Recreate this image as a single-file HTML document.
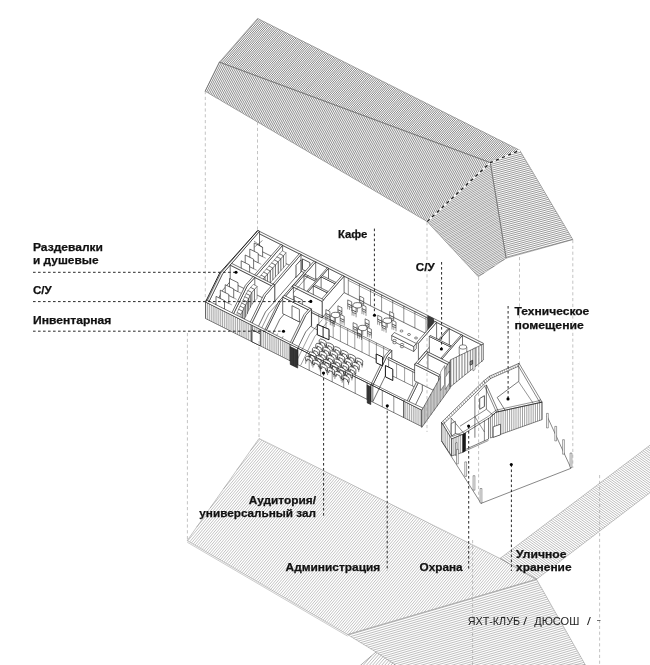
<!DOCTYPE html>
<html><head><meta charset="utf-8"><title>axon</title>
<style>html,body{margin:0;padding:0;background:#fff}svg{display:block;will-change:transform}text{font-family:"Liberation Sans",sans-serif}</style>
</head><body>
<svg width="650" height="665" viewBox="0 0 650 665">
<rect width="650" height="665" fill="#fff"/>
<path d="M535.8 578.9L535.1 579.7M534 577.8L531.5 580.8M532.1 576.8L527.9 581.8M530.3 575.8L524.3 582.9M528.5 574.7L520.7 583.9M526.7 573.7L517.2 585M524.9 572.7L513.6 586M523 571.6L510 587.1M521.2 570.6L506.4 588.1M519.4 569.6L502.8 589.2M517.6 568.5L499.3 590.2M515.8 567.5L495.7 591.3M513.9 566.4L492.1 592.3M512.1 565.4L488.5 593.4M510.3 564.4L484.9 594.4M508.5 563.3L481.4 595.5M506.6 562.3L477.8 596.5M504.8 561.3L474.2 597.5M503 560.2L470.6 598.6M501.2 559.2L467 599.6M499.3 558.2L463.5 600.7M497.4 557.2L459.9 601.7M495.5 556.3L456.3 602.8M493.6 555.3L452.7 603.8M491.8 554.4L449.1 604.9M489.9 553.4L445.6 605.9M488 552.5L442 607M486.1 551.6L438.4 608M484.2 550.6L434.8 609.1M482.3 549.7L431.2 610.1M480.4 548.7L427.7 611.2M478.5 547.8L424.1 612.2M476.6 546.8L420.5 613.3M474.7 545.9L416.9 614.3M472.8 544.9L413.3 615.4M470.9 544L409.8 616.4M469 543.1L406.2 617.5M467.1 542.1L402.6 618.5M465.2 541.2L399 619.6M463.3 540.2L395.4 620.6M461.4 539.3L391.8 621.7M459.5 538.3L388.3 622.7M457.6 537.4L384.7 623.8M455.7 536.4L381.1 624.8M453.8 535.5L377.5 625.9M451.9 534.5L373.9 626.9M450 533.6L370.4 628M448.1 532.7L366.8 629M446.2 531.7L363.2 630.1M444.3 530.8L359.6 631.1M442.4 529.8L356 632.2M440.5 528.9L352.5 633.2M438.6 527.9L348.9 634.3M436.7 527L346.5 633.9M434.8 526L344.7 632.8M432.9 525.1L342.9 631.8M431 524.2L341.1 630.7M429.1 523.2L339.3 629.7M427.2 522.3L337.5 628.6M425.3 521.3L335.7 627.6M423.4 520.4L333.9 626.5M421.5 519.4L332.1 625.4M419.6 518.5L330.3 624.4M417.7 517.5L328.5 623.3M415.8 516.6L326.6 622.3M413.9 515.6L324.8 621.2M412 514.7L323 620.2M410.1 513.8L321.2 619.1M408.2 512.8L319.4 618M406.3 511.9L317.6 617M404.4 510.9L315.8 615.9M402.5 510L314 614.9M400.6 509L312.2 613.8M398.7 508.1L310.4 612.8M396.9 507.1L308.6 611.7M395 506.2L306.8 610.6M393.1 505.2L305 609.6M391.2 504.3L303.2 608.5M389.3 503.4L301.4 607.5M387.4 502.4L299.6 606.4M385.5 501.5L297.8 605.4M383.6 500.5L296 604.3M381.7 499.6L294.2 603.3M379.8 498.6L292.4 602.2M377.9 497.7L290.6 601.1M376 496.7L288.8 600.1M374.1 495.8L287 599M372.2 494.9L285.2 598M370.3 493.9L283.4 596.9M368.4 493L281.6 595.9M366.5 492L279.7 594.8M364.6 491.1L277.9 593.7M362.7 490.1L276.1 592.7M360.8 489.2L274.3 591.6M358.9 488.2L272.5 590.6M357 487.3L270.7 589.5M355.1 486.3L268.9 588.5M353.2 485.4L267.1 587.4M351.3 484.5L265.3 586.4M349.4 483.5L263.5 585.3M347.5 482.6L261.7 584.2M345.6 481.6L259.9 583.2M343.7 480.7L258.1 582.1M341.8 479.7L256.3 581.1M339.9 478.8L254.5 580M338 477.8L252.7 579M336.1 476.9L250.9 577.9M334.2 476L249.1 576.8M332.3 475L247.3 575.8M330.4 474.1L245.5 574.7M328.5 473.1L243.7 573.7M326.6 472.2L241.9 572.6M324.7 471.2L240.1 571.6M322.8 470.3L238.3 570.5M320.9 469.3L236.5 569.4M319 468.4L234.6 568.4M317.1 467.4L232.8 567.3M315.2 466.5L231 566.3M313.3 465.6L229.2 565.2M311.4 464.6L227.4 564.2M309.5 463.7L225.6 563.1M307.6 462.7L223.8 562.1M305.7 461.8L222 561M303.9 460.8L220.2 559.9M302 459.9L218.4 558.9M300.1 458.9L216.6 557.8M298.2 458L214.8 556.8M296.3 457.1L213 555.7M294.4 456.1L211.2 554.7M292.5 455.2L209.4 553.6M290.6 454.2L207.6 552.5M288.7 453.3L205.8 551.5M286.8 452.3L204 550.4M284.9 451.4L202.2 549.4M283 450.4L200.4 548.3M281.1 449.5L198.6 547.3M279.2 448.5L196.8 546.2M277.3 447.6L195 545.1M275.4 446.7L193.2 544.1M273.5 445.7L191.4 543M271.6 444.8L189.6 542M269.7 443.8L187.7 540.9M267.8 442.9L196.6 527.2M265.9 441.9L210.1 508.1M264 441L223.5 488.9M262.1 440L237 469.8M260.2 439.1L250.5 450.6" stroke="#5c5c5c" stroke-width="0.37" fill="none"/>
<polygon points="259,438.5 500,558.5 536.5,579.3 347.7,634.6 187.2,540.6" stroke="#8a8a8a" stroke-width="0.5" fill="none" />
<polyline points="187.2,542.2 347.7,636.2" stroke="#999" stroke-width="0.5" fill="none" />
<polygon points="347.7,634.6 536.5,579.3 585.4,665 400,668 376,652" stroke="none" stroke-width="0.6" fill="#fff" />
<path d="M348.4 635L536.8 579.8M350.9 636.5L537.9 581.8M353.3 638.1L539 583.7M355.8 639.6L540.1 585.6M358.3 641.1L541.2 587.5M360.7 642.6L542.3 589.4M363.2 644.1L543.4 591.4M365.7 645.6L544.5 593.3M368.1 647.2L545.6 595.2M370.6 648.7L546.7 597.1M373.1 650.2L547.8 599M375.5 651.7L548.9 601M377.9 653.3L549.9 602.9M380.2 654.8L551 604.8M382.6 656.4L552.1 606.7M384.9 657.9L553.2 608.6M387.2 659.5L554.3 610.5M389.6 661L555.4 612.5M391.9 662.6L556.5 614.4M394.2 664.2L557.6 616.3M396.6 665.7L558.7 618.2M398.9 667.3L559.8 620.1M404.3 667.9L560.9 622.1M412.4 667.8L562 624M420.5 667.7L563.1 625.9M428.6 667.5L564.2 627.8M436.7 667.4L565.3 629.7M444.8 667.3L566.4 631.7M452.9 667.1L567.5 633.6M461 667L568.6 635.5M469.1 666.9L569.7 637.4M477.2 666.8L570.8 639.3M485.3 666.6L571.9 641.3M493.4 666.5L572.9 643.2M501.5 666.4L574 645.1M509.6 666.2L575.1 647M517.7 666.1L576.2 648.9M525.8 666L577.3 650.9M533.9 665.8L578.4 652.8M541.9 665.7L579.5 654.7M550 665.6L580.6 656.6M558.1 665.4L581.7 658.5M566.2 665.3L582.8 660.5M574.3 665.2L583.9 662.4M582.4 665L585 664.3" stroke="#5c5c5c" stroke-width="0.4" fill="none"/>
<polygon points="347.7,634.6 536.5,579.3 585.4,665 400,668 376,652" stroke="#8a8a8a" stroke-width="0.5" fill="none" />
<path d="M356.2 670L359.6 666.1M359.2 670L371.5 655.8M362.3 670L377.2 652.8M365.3 670L379.2 654M368.4 670L381.1 655.3M371.4 670L383.1 656.6M374.4 670L385 657.8M377.5 670L387 659.1M380.5 670L389 660.3M383.6 670L390.9 661.6M386.6 670L392.9 662.8M389.7 670L394.8 664.1M392.7 670L396.8 665.4M395.8 670L398.7 666.6M398.8 670L400.7 667.9M401.9 670L402.6 669.1" stroke="#5c5c5c" stroke-width="0.4" fill="none"/>
<polyline points="355,670 376,652" stroke="#777" stroke-width="0.6" fill="none" />
<path d="M659.6 438L660 438.2M658 439.2L660 440.7M656.3 440.5L660 443.2M654.6 441.8L660 445.6M653 443L660 448.1M651.3 444.3L660 450.6M649.6 445.5L660 453M647.9 446.8L660 455.5M646.3 448.1L660 457.9M644.6 449.3L660 460.4M642.9 450.6L660 462.9M641.3 451.8L660 465.3M639.6 453.1L660 467.8M637.9 454.4L660 470.3M636.2 455.6L660 472.7M634.6 456.9L660 475.2M632.9 458.2L660 477.7M631.2 459.4L660 480.1M629.6 460.7L660 482.6M627.9 461.9L660 485M626.2 463.2L658.3 486.3M624.6 464.5L656.6 487.6M622.9 465.7L655 488.8M621.2 467L653.3 490.1M619.5 468.2L651.7 491.4M617.9 469.5L650 492.6M616.2 470.8L648.3 493.9M614.5 472L646.7 495.2M612.9 473.3L645 496.4M611.2 474.6L643.3 497.7M609.5 475.8L641.7 499M607.8 477.1L640 500.3M606.2 478.3L638.4 501.5M604.5 479.6L636.7 502.8M602.8 480.9L635 504.1M601.2 482.1L633.4 505.3M599.5 483.4L631.7 506.6M597.8 484.6L630.1 507.9M596.1 485.9L628.4 509.1M594.5 487.2L626.7 510.4M592.8 488.4L625.1 511.7M591.1 489.7L623.4 512.9M589.5 491L621.8 514.2M587.8 492.2L620.1 515.5M586.1 493.5L618.4 516.7M584.5 494.7L616.8 518M582.8 496L615.1 519.3M581.1 497.3L613.4 520.5M579.4 498.5L611.8 521.8M577.8 499.8L610.1 523.1M576.1 501L608.5 524.4M574.4 502.3L606.8 525.6M572.8 503.6L605.1 526.9M571.1 504.8L603.5 528.2M569.4 506.1L601.8 529.4M567.7 507.4L600.2 530.7M566.1 508.6L598.5 532M564.4 509.9L596.8 533.2M562.7 511.1L595.2 534.5M561.1 512.4L593.5 535.8M559.4 513.7L591.9 537M557.7 514.9L590.2 538.3M556 516.2L588.5 539.6M554.4 517.4L586.9 540.8M552.7 518.7L585.2 542.1M551 520L583.5 543.4M549.4 521.2L581.9 544.6M547.7 522.5L580.2 545.9M546 523.8L578.6 547.2M544.4 525L576.9 548.5M542.7 526.3L575.2 549.7M541 527.5L573.6 551M539.3 528.8L571.9 552.3M537.7 530.1L570.3 553.5M536 531.3L568.6 554.8M534.3 532.6L566.9 556.1M532.7 533.8L565.3 557.3M531 535.1L563.6 558.6M529.3 536.4L562 559.9M527.6 537.6L560.3 561.1M526 538.9L558.6 562.4M524.3 540.2L557 563.7M522.6 541.4L555.3 564.9M521 542.7L553.6 566.2M519.3 543.9L552 567.5M517.6 545.2L550.3 568.7M515.9 546.5L548.7 570M514.3 547.7L547 571.3M512.6 549L545.3 572.6M510.9 550.2L543.7 573.8M509.3 551.5L542 575.1M507.6 552.8L540.4 576.4M505.9 554L538.7 577.6M504.3 555.3L537 578.9M502.6 556.6L525.4 573M500.9 557.8L508.9 563.6" stroke="#5c5c5c" stroke-width="0.4" fill="none"/>
<polygon points="500,558.5 660,437.7 660,485 536.5,579.3" stroke="#8a8a8a" stroke-width="0.5" fill="none" />
<path d="M519.1 149.9L518.2 151M517.6 149.2L514.9 152.3M516.2 148.5L511.6 153.7M514.7 147.7L508.3 155.1M513.3 147L505 156.5M511.8 146.3L501.7 157.8M510.3 145.5L498.4 159.2M508.9 144.8L495.1 160.6M507.4 144.1L491.8 162M506 143.3L489.5 162.3M504.5 142.6L487.9 161.7M503.1 141.9L486.3 161.1M501.6 141.1L484.7 160.5M500.1 140.4L483.1 159.9M498.7 139.7L481.5 159.4M497.2 139L480 158.8M495.8 138.2L478.4 158.2M494.3 137.5L476.8 157.6M492.9 136.8L475.2 157M491.4 136L473.6 156.4M489.9 135.3L472 155.8M488.5 134.6L470.5 155.2M487 133.8L468.9 154.6M485.6 133.1L467.3 154.1M484.1 132.4L465.7 153.5M482.7 131.6L464.1 152.9M481.2 130.9L462.5 152.3M479.7 130.2L460.9 151.7M478.3 129.4L459.4 151.1M476.8 128.7L457.8 150.5M475.4 128L456.2 149.9M473.9 127.2L454.6 149.4M472.5 126.5L453 148.8M471 125.8L451.4 148.2M469.5 125L449.9 147.6M468.1 124.3L448.3 147M466.6 123.6L446.7 146.4M465.2 122.8L445.1 145.8M463.7 122.1L443.5 145.2M462.3 121.4L441.9 144.7M460.8 120.6L440.4 144.1M459.3 119.9L438.8 143.5M457.9 119.2L437.2 142.9M456.4 118.4L435.6 142.3M455 117.7L434 141.7M453.5 117L432.4 141.1M452.1 116.2L430.9 140.5M450.6 115.5L429.3 140M449.1 114.8L427.7 139.4M447.7 114L426.1 138.8M446.2 113.3L424.5 138.2M444.8 112.6L422.9 137.6M443.3 111.8L421.4 137M441.9 111.1L419.8 136.4M440.4 110.4L418.2 135.8M438.9 109.6L416.6 135.3M437.5 108.9L415 134.7M436 108.2L413.4 134.1M434.6 107.4L411.8 133.5M433.1 106.7L410.3 132.9M431.7 106L408.7 132.3M430.2 105.2L407.1 131.7M428.7 104.5L405.5 131.1M427.3 103.8L403.9 130.6M425.8 103L402.3 130M424.4 102.3L400.8 129.4M422.9 101.6L399.2 128.8M421.5 100.8L397.6 128.2M420 100.1L396 127.6M418.5 99.4L394.4 127M417.1 98.6L392.8 126.4M415.6 97.9L391.3 125.9M414.2 97.2L389.7 125.3M412.7 96.4L388.1 124.7M411.3 95.7L386.5 124.1M409.8 95L384.9 123.5M408.3 94.2L383.3 122.9M406.9 93.5L381.8 122.3M405.4 92.8L380.2 121.7M404 92.1L378.6 121.2M402.5 91.3L377 120.6M401 90.6L375.4 120M399.6 89.9L373.8 119.4M398.1 89.1L372.3 118.8M396.7 88.4L370.7 118.2M395.2 87.7L369.1 117.6M393.8 86.9L367.5 117M392.3 86.2L365.9 116.5M390.8 85.5L364.3 115.9M389.4 84.7L362.7 115.3M387.9 84L361.2 114.7M386.5 83.3L359.6 114.1M385 82.5L358 113.5M383.6 81.8L356.4 112.9M382.1 81.1L354.8 112.3M380.6 80.3L353.2 111.8M379.2 79.6L351.7 111.2M377.7 78.9L350.1 110.6M376.3 78.1L348.5 110M374.8 77.4L346.9 109.4M373.4 76.7L345.3 108.8M371.9 75.9L343.7 108.2M370.4 75.2L342.2 107.6M369 74.5L340.6 107.1M367.5 73.7L339 106.5M366.1 73L337.4 105.9M364.6 72.3L335.8 105.3M363.2 71.5L334.2 104.7M361.7 70.8L332.7 104.1M360.2 70.1L331.1 103.5M358.8 69.3L329.5 102.9M357.3 68.6L327.9 102.4M355.9 67.9L326.3 101.8M354.4 67.1L324.7 101.2M353 66.4L323.2 100.6M351.5 65.7L321.6 100M350 64.9L320 99.4M348.6 64.2L318.4 98.8M347.1 63.5L316.8 98.2M345.7 62.7L315.2 97.7M344.2 62L313.6 97.1M342.8 61.3L312.1 96.5M341.3 60.5L310.5 95.9M339.8 59.8L308.9 95.3M338.4 59.1L307.3 94.7M336.9 58.3L305.7 94.1M335.5 57.6L304.1 93.5M334 56.9L302.6 93M332.6 56.1L301 92.4M331.1 55.4L299.4 91.8M329.6 54.7L297.8 91.2M328.2 53.9L296.2 90.6M326.7 53.2L294.6 90M325.3 52.5L293.1 89.4M323.8 51.7L291.5 88.8M322.4 51L289.9 88.3M320.9 50.3L288.3 87.7M319.4 49.5L286.7 87.1M318 48.8L285.1 86.5M316.5 48.1L283.6 85.9M315.1 47.3L282 85.3M313.6 46.6L280.4 84.7M312.2 45.9L278.8 84.1M310.7 45.2L277.2 83.6M309.2 44.4L275.6 83M307.8 43.7L274.1 82.4M306.3 43L272.5 81.8M304.9 42.2L270.9 81.2M303.4 41.5L269.3 80.6M302 40.8L267.7 80M300.5 40L266.1 79.4M299 39.3L264.5 78.8M297.6 38.6L263 78.3M296.1 37.8L261.4 77.7M294.7 37.1L259.8 77.1M293.2 36.4L258.2 76.5M291.8 35.6L256.6 75.9M290.3 34.9L255 75.3M288.8 34.2L253.5 74.7M287.4 33.4L251.9 74.1M285.9 32.7L250.3 73.6M284.5 32L248.7 73M283 31.2L247.1 72.4M281.6 30.5L245.5 71.8M280.1 29.8L244 71.2M278.6 29L242.4 70.6M277.2 28.3L240.8 70M275.7 27.6L239.2 69.4M274.3 26.8L237.6 68.9M272.8 26.1L236 68.3M271.4 25.4L234.5 67.7M269.9 24.6L232.9 67.1M268.4 23.9L231.3 66.5M267 23.2L229.7 65.9M265.5 22.4L228.1 65.3M264.1 21.7L226.5 64.7M262.6 21L225 64.2M261.2 20.2L223.4 63.6M259.7 19.5L221.8 63M258.2 18.8L220.2 62.4" stroke="#1a1a1a" stroke-width="0.54" fill="none"/>
<path d="M488.6 162L486.7 166M487 161.4L483.2 169.3M485.4 160.8L479.7 172.5M483.8 160.2L476.2 175.8M482.2 159.6L472.7 179.1M480.6 159L469.2 182.4M479 158.4L465.7 185.6M477.4 157.8L462.2 188.9M475.8 157.2L458.7 192.2M474.2 156.6L455.2 195.5M472.6 156L451.6 198.7M471 155.4L448.1 202M469.4 154.9L444.6 205.3M467.8 154.3L441.1 208.6M466.2 153.7L437.6 211.8M464.6 153.1L434.1 215.1M463 152.5L430.6 218.4M461.4 151.9L427.2 221.6M459.8 151.3L425.7 220.7M458.2 150.7L424.2 219.9M456.6 150.1L422.8 219M455 149.5L421.3 218.1M453.4 148.9L419.8 217.3M451.8 148.3L418.3 216.4M450.2 147.7L416.9 215.5M448.6 147.1L415.4 214.7M447 146.5L413.9 213.8M445.4 145.9L412.5 212.9M443.8 145.3L411 212.1M442.2 144.8L409.5 211.2M440.6 144.2L408.1 210.4M439 143.6L406.6 209.5M437.4 143L405.1 208.6M435.8 142.4L403.6 207.8M434.2 141.8L402.2 206.9M432.6 141.2L400.7 206M431 140.6L399.2 205.2M429.4 140L397.8 204.3M427.8 139.4L396.3 203.5M426.2 138.8L394.8 202.6M424.6 138.2L393.4 201.7M423 137.6L391.9 200.9M421.4 137L390.4 200M419.8 136.4L388.9 199.1M418.2 135.8L387.5 198.3M416.6 135.2L386 197.4M415 134.6L384.5 196.5M413.4 134.1L383.1 195.7M411.7 133.5L381.6 194.8M410.1 132.9L380.1 194M408.5 132.3L378.7 193.1M406.9 131.7L377.2 192.2M405.3 131.1L375.7 191.4M403.7 130.5L374.2 190.5M402.1 129.9L372.8 189.6M400.5 129.3L371.3 188.8M398.9 128.7L369.8 187.9M397.3 128.1L368.4 187.1M395.7 127.5L366.9 186.2M394.1 126.9L365.4 185.3M392.5 126.3L364 184.5M390.9 125.7L362.5 183.6M389.3 125.1L361 182.7M387.7 124.5L359.5 181.9M386.1 123.9L358.1 181M384.5 123.4L356.6 180.2M382.9 122.8L355.1 179.3M381.3 122.2L353.7 178.4M379.7 121.6L352.2 177.6M378.1 121L350.7 176.7M376.5 120.4L349.3 175.8M374.9 119.8L347.8 175M373.3 119.2L346.3 174.1M371.7 118.6L344.8 173.2M370.1 118L343.4 172.4M368.5 117.4L341.9 171.5M366.9 116.8L340.4 170.7M365.3 116.2L339 169.8M363.7 115.6L337.5 168.9M362.1 115L336 168.1M360.5 114.4L334.6 167.2M358.9 113.8L333.1 166.3M357.3 113.3L331.6 165.5M355.7 112.7L330.1 164.6M354.1 112.1L328.7 163.8M352.5 111.5L327.2 162.9M350.9 110.9L325.7 162M349.3 110.3L324.3 161.2M347.7 109.7L322.8 160.3M346.1 109.1L321.3 159.4M344.5 108.5L319.9 158.6M342.9 107.9L318.4 157.7M341.3 107.3L316.9 156.8M339.7 106.7L315.4 156M338.1 106.1L314 155.1M336.4 105.5L312.5 154.3M334.8 104.9L311 153.4M333.2 104.3L309.6 152.5M331.6 103.7L308.1 151.7M330 103.1L306.6 150.8M328.4 102.6L305.2 149.9M326.8 102L303.7 149.1M325.2 101.4L302.2 148.2M323.6 100.8L300.7 147.4M322 100.2L299.3 146.5M320.4 99.6L297.8 145.6M318.8 99L296.3 144.8M317.2 98.4L294.9 143.9M315.6 97.8L293.4 143M314 97.2L291.9 142.2M312.4 96.6L290.5 141.3M310.8 96L289 140.4M309.2 95.4L287.5 139.6M307.6 94.8L286 138.7M306 94.2L284.6 137.9M304.4 93.6L283.1 137M302.8 93L281.6 136.1M301.2 92.4L280.2 135.3M299.6 91.9L278.7 134.4M298 91.3L277.2 133.5M296.4 90.7L275.8 132.7M294.8 90.1L274.3 131.8M293.2 89.5L272.8 131M291.6 88.9L271.3 130.1M290 88.3L269.9 129.2M288.4 87.7L268.4 128.4M286.8 87.1L266.9 127.5M285.2 86.5L265.5 126.6M283.6 85.9L264 125.8M282 85.3L262.5 124.9M280.4 84.7L261.1 124M278.8 84.1L259.6 123.2M277.2 83.5L258.1 122.3M275.6 82.9L256.6 121.5M274 82.3L255.2 120.6M272.4 81.7L253.7 119.7M270.8 81.2L252.2 118.9M269.2 80.6L250.8 118M267.6 80L249.3 117.1M266 79.4L247.8 116.3M264.4 78.8L246.3 115.4M262.8 78.2L244.9 114.6M261.2 77.6L243.4 113.7M259.5 77L241.9 112.8M257.9 76.4L240.5 112M256.3 75.8L239 111.1M254.7 75.2L237.5 110.2M253.1 74.6L236.1 109.4M251.5 74L234.6 108.5M249.9 73.4L233.1 107.7M248.3 72.8L231.6 106.8M246.7 72.2L230.2 105.9M245.1 71.6L228.7 105.1M243.5 71.1L227.2 104.2M241.9 70.5L225.8 103.3M240.3 69.9L224.3 102.5M238.7 69.3L222.8 101.6M237.1 68.7L221.4 100.7M235.5 68.1L219.9 99.9M233.9 67.5L218.4 99M232.3 66.9L216.9 98.2M230.7 66.3L215.5 97.3M229.1 65.7L214 96.4M227.5 65.1L212.5 95.6M225.9 64.5L211.1 94.7M224.3 63.9L209.6 93.8M222.7 63.3L208.1 93M221.1 62.7L206.7 92.1M219.5 62.1L205.2 91.3" stroke="#1a1a1a" stroke-width="0.49" fill="none"/>
<path d="M486.1 166.5L490.6 164.3M482.2 170.1L490.8 165.8M478.3 173.8L491.1 167.4M474.4 177.4L491.4 169M470.5 181.1L491.6 170.5M466.6 184.7L491.9 172.1M462.7 188.4L492.1 173.7M458.8 192.1L492.4 175.3M454.9 195.7L492.7 176.8M451 199.4L492.9 178.4M447.1 203L493.2 180M443.2 206.7L493.4 181.5M439.3 210.3L493.7 183.1M435.4 214L493.9 184.7M431.5 217.6L494.2 186.2M427.5 221.3L494.5 187.8M428.2 222.7L494.7 189.4M429.3 223.8L495 191M430.3 225L495.2 192.5M431.4 226.1L495.5 194.1M432.5 227.3L495.8 195.7M433.6 228.5L496 197.2M434.7 229.6L496.3 198.8M435.7 230.8L496.5 200.4M436.8 231.9L496.8 201.9M437.9 233.1L497.1 203.5M439 234.3L497.3 205.1M440 235.4L497.6 206.7M441.1 236.6L497.8 208.2M442.2 237.7L498.1 209.8M443.3 238.9L498.4 211.4M444.4 240.1L498.6 212.9M445.4 241.2L498.9 214.5M446.5 242.4L499.1 216.1M447.6 243.5L499.4 217.6M448.7 244.7L499.7 219.2M449.7 245.9L499.9 220.8M450.8 247L500.2 222.3M451.9 248.2L500.4 223.9M453 249.3L500.7 225.5M454.1 250.5L501 227.1M455.1 251.7L501.2 228.6M456.2 252.8L501.5 230.2M457.3 254L501.7 231.8M458.4 255.1L502 233.3M459.5 256.3L502.3 234.9M460.5 257.5L502.5 236.5M461.6 258.6L502.8 238M462.7 259.8L503 239.6M463.8 260.9L503.3 241.2M464.8 262.1L503.5 242.8M465.9 263.3L503.8 244.3M467 264.4L504.1 245.9M468.1 265.6L504.3 247.5M469.2 266.7L504.6 249M470.2 267.9L504.8 250.6M471.3 269.1L505.1 252.2M472.4 270.2L505.4 253.7M473.5 271.4L505.6 255.3M474.5 272.6L505.9 256.9M475.6 273.7L504.5 259.3M476.7 274.9L494.4 266M477.8 276L484.2 272.8" stroke="#1a1a1a" stroke-width="0.42" fill="none"/>
<path d="M518.4 150.9L519.9 150.5M504.6 156.6L520.9 152.2M490.9 162.4L522 154M490.6 164.5L523 155.7M490.9 166.4L524 157.4M491.2 168.3L525.1 159.2M491.6 170.3L526.1 160.9M491.9 172.2L527.1 162.7M492.2 174.1L528.2 164.4M492.5 176.1L529.2 166.1M492.8 178L530.2 167.9M493.2 179.9L531.3 169.6M493.5 181.9L532.3 171.4M493.8 183.8L533.3 173.1M494.1 185.7L534.4 174.9M494.4 187.7L535.4 176.6M494.8 189.6L536.4 178.3M495.1 191.5L537.5 180.1M495.4 193.5L538.5 181.8M495.7 195.4L539.5 183.6M496 197.3L540.6 185.3M496.4 199.3L541.6 187M496.7 201.2L542.6 188.8M497 203.1L543.7 190.5M497.3 205.1L544.7 192.3M497.6 207L545.7 194M498 208.9L546.8 195.7M498.3 210.9L547.8 197.5M498.6 212.8L548.8 199.2M498.9 214.7L549.9 201M499.2 216.7L550.9 202.7M499.6 218.6L551.9 204.4M499.9 220.5L553 206.2M500.2 222.5L554 207.9M500.5 224.4L555 209.7M500.8 226.3L556.1 211.4M501.2 228.3L557.1 213.2M501.5 230.2L558.1 214.9M501.8 232.1L559.2 216.6M502.1 234.1L560.2 218.4M502.4 236L561.2 220.1M502.7 237.9L562.3 221.9M503.1 239.9L563.3 223.6M503.4 241.8L564.3 225.3M503.7 243.7L565.4 227.1M504 245.7L566.4 228.8M504.3 247.6L567.4 230.6M504.7 249.5L568.5 232.3M505 251.5L569.5 234M505.3 253.4L570.5 235.8M505.6 255.3L571.6 237.5M505.9 257.3L572.6 239.3" stroke="#333" stroke-width="0.5" fill="none"/>
<polygon points="257.5,18.4 519.8,150.3 490.3,162.6 219.4,62.1" stroke="#555" stroke-width="0.45" fill="none" />
<polygon points="219.4,62.1 490.3,162.6 427.2,221.6 205.1,91.2" stroke="#555" stroke-width="0.45" fill="none" />
<polygon points="490.3,162.6 427.2,221.6 478.4,276.7 506.1,258.2" stroke="#555" stroke-width="0.45" fill="none" />
<polygon points="490.3,162.6 519.8,150.3 572.8,239.6 506.1,258.2" stroke="#555" stroke-width="0.45" fill="none" />
<polyline points="427.2,221.6 490.3,162.6 519.8,150.3" stroke="#fff" stroke-width="1.5" fill="none" />
<polyline points="427.2,221.6 490.3,162.6 519.8,150.3" stroke="#1a1a1a" stroke-width="1.3" fill="none" stroke-dasharray="3.3 3.3"/>
<polygon points="257.8,230.5 220.8,273 205.6,301.5 205.6,318 421.5,426.9 450.2,387 483.4,360 483.4,343.3" stroke="none" stroke-width="0.6" fill="#fff" />
<polygon points="256.3,232.2 481.9,345 481.9,361.5 256.3,248.7" stroke="#111" stroke-width="0.6" fill="#fff" />
<polygon points="257.8,230.5 483.4,343.3 481.9,345 256.3,232.2" stroke="#111" stroke-width="0.6" fill="#fff" />
<line x1="348.3" y1="278.2" x2="348.3" y2="294.7" stroke="#111" stroke-width="0.45" />
<line x1="359.4" y1="283.8" x2="359.4" y2="300.2" stroke="#111" stroke-width="0.45" />
<line x1="370.5" y1="289.3" x2="370.5" y2="305.8" stroke="#111" stroke-width="0.45" />
<line x1="381.6" y1="294.8" x2="381.6" y2="311.3" stroke="#111" stroke-width="0.45" />
<line x1="392.7" y1="300.4" x2="392.7" y2="316.9" stroke="#111" stroke-width="0.45" />
<line x1="403.8" y1="305.9" x2="403.8" y2="322.4" stroke="#111" stroke-width="0.45" />
<line x1="414.9" y1="311.5" x2="414.9" y2="328" stroke="#111" stroke-width="0.45" />
<line x1="426" y1="317.1" x2="426" y2="333.6" stroke="#111" stroke-width="0.45" />
<line x1="348.3" y1="280.4" x2="426.3" y2="319.4" stroke="#111" stroke-width="0.4" />
<polygon points="427.6,315.7 433.6,318.7 433.6,336.2 427.6,333.2" stroke="#111" stroke-width="0.5" fill="#3a3a3a" />
<polygon points="259.5,231.3 222.5,273.9 208.3,302.9 208.3,319.4 222.5,290.4 259.5,247.8" stroke="#111" stroke-width="0.6" fill="#fff" />
<polygon points="257.8,230.5 220.8,273 206.6,302 208.3,302.9 222.5,273.9 259.5,231.3" stroke="#111" stroke-width="0.6" fill="#fff" />
<polygon points="254.2,243 262.6,247.2 262.6,256.7 254.2,252.5" stroke="#111" stroke-width="0.6" fill="#fff" />
<line x1="262.6" y1="256.7" x2="265.7" y2="258.2" stroke="#111" stroke-width="0.4" />
<polygon points="249.8,249.1 258.2,253.3 258.2,262.8 249.8,258.6" stroke="#111" stroke-width="0.6" fill="#fff" />
<line x1="258.2" y1="262.8" x2="261.3" y2="264.3" stroke="#111" stroke-width="0.4" />
<polygon points="245.2,255 253.6,259.2 253.6,268.7 245.2,264.5" stroke="#111" stroke-width="0.6" fill="#fff" />
<line x1="253.6" y1="268.7" x2="256.7" y2="270.2" stroke="#111" stroke-width="0.4" />
<polygon points="241.2,260.8 249.6,265 249.6,274.5 241.2,270.3" stroke="#111" stroke-width="0.6" fill="#fff" />
<line x1="249.6" y1="274.5" x2="252.7" y2="276" stroke="#111" stroke-width="0.4" />
<line x1="254" y1="241" x2="262.5" y2="247.5" stroke="#111" stroke-width="0.45" />
<line x1="254.5" y1="247" x2="262.5" y2="240.5" stroke="#111" stroke-width="0.45" />
<polygon points="282.6,245.3 256.3,275.6 256.3,292.1 282.6,261.9" stroke="#111" stroke-width="0.6" fill="#fff" />
<polygon points="280.9,244.5 254.6,274.8 256.3,275.6 282.6,245.3" stroke="#111" stroke-width="0.6" fill="#fff" />
<polygon points="286,252.7 283.4,255.8 283.4,267.8 286,264.7" stroke="#111" stroke-width="0.4" fill="#fff" />
<polygon points="279.6,253.9 283.4,255.8 283.4,267.8 279.6,265.9" stroke="#111" stroke-width="0.4" fill="#fff" />
<polygon points="282.2,250.8 286,252.7 283.4,255.8 279.6,253.9" stroke="#111" stroke-width="0.4" fill="#fff" />
<line x1="281.5" y1="254.8" x2="281.5" y2="266.8" stroke="#111" stroke-width="0.35" />
<polygon points="283.4,255.8 280.7,258.8 280.7,270.8 283.4,267.8" stroke="#111" stroke-width="0.4" fill="#fff" />
<polygon points="276.9,256.9 280.7,258.8 280.7,270.8 276.9,268.9" stroke="#111" stroke-width="0.4" fill="#fff" />
<polygon points="279.6,253.9 283.4,255.8 280.7,258.8 276.9,256.9" stroke="#111" stroke-width="0.4" fill="#fff" />
<line x1="278.8" y1="257.9" x2="278.8" y2="269.9" stroke="#111" stroke-width="0.35" />
<polygon points="280.7,258.8 278.1,261.9 278.1,273.9 280.7,270.8" stroke="#111" stroke-width="0.4" fill="#fff" />
<polygon points="274.3,260 278.1,261.9 278.1,273.9 274.3,272" stroke="#111" stroke-width="0.4" fill="#fff" />
<polygon points="276.9,256.9 280.7,258.8 278.1,261.9 274.3,260" stroke="#111" stroke-width="0.4" fill="#fff" />
<line x1="276.2" y1="260.9" x2="276.2" y2="272.9" stroke="#111" stroke-width="0.35" />
<polygon points="278.1,261.9 275.4,264.9 275.4,276.9 278.1,273.9" stroke="#111" stroke-width="0.4" fill="#fff" />
<polygon points="271.6,263 275.4,264.9 275.4,276.9 271.6,275" stroke="#111" stroke-width="0.4" fill="#fff" />
<polygon points="274.3,260 278.1,261.9 275.4,264.9 271.6,263" stroke="#111" stroke-width="0.4" fill="#fff" />
<line x1="273.5" y1="264" x2="273.5" y2="276" stroke="#111" stroke-width="0.35" />
<polygon points="275.4,264.9 272.7,268 272.7,280 275.4,276.9" stroke="#111" stroke-width="0.4" fill="#fff" />
<polygon points="268.9,266.1 272.7,268 272.7,280 268.9,278.1" stroke="#111" stroke-width="0.4" fill="#fff" />
<polygon points="271.6,263 275.4,264.9 272.7,268 268.9,266.1" stroke="#111" stroke-width="0.4" fill="#fff" />
<line x1="270.8" y1="267" x2="270.8" y2="279" stroke="#111" stroke-width="0.35" />
<polygon points="272.7,268 270.1,271 270.1,283 272.7,280" stroke="#111" stroke-width="0.4" fill="#fff" />
<polygon points="266.3,269.1 270.1,271 270.1,283 266.3,281.1" stroke="#111" stroke-width="0.4" fill="#fff" />
<polygon points="268.9,266.1 272.7,268 270.1,271 266.3,269.1" stroke="#111" stroke-width="0.4" fill="#fff" />
<line x1="268.2" y1="270.1" x2="268.2" y2="282.1" stroke="#111" stroke-width="0.35" />
<polygon points="270.1,271 267.4,274.1 267.4,286.1 270.1,283" stroke="#111" stroke-width="0.4" fill="#fff" />
<polygon points="263.6,272.2 267.4,274.1 267.4,286.1 263.6,284.2" stroke="#111" stroke-width="0.4" fill="#fff" />
<polygon points="266.3,269.1 270.1,271 267.4,274.1 263.6,272.2" stroke="#111" stroke-width="0.4" fill="#fff" />
<line x1="265.5" y1="273.1" x2="265.5" y2="285.1" stroke="#111" stroke-width="0.35" />
<polygon points="267.4,274.1 264.8,277.1 264.8,289.1 267.4,286.1" stroke="#111" stroke-width="0.4" fill="#fff" />
<polygon points="261,275.2 264.8,277.1 264.8,289.1 261,287.2" stroke="#111" stroke-width="0.4" fill="#fff" />
<polygon points="263.6,272.2 267.4,274.1 264.8,277.1 261,275.2" stroke="#111" stroke-width="0.4" fill="#fff" />
<line x1="262.9" y1="276.2" x2="262.9" y2="288.2" stroke="#111" stroke-width="0.35" />
<polygon points="264.8,277.1 262.1,280.2 262.1,292.2 264.8,289.1" stroke="#111" stroke-width="0.4" fill="#fff" />
<polygon points="258.3,278.3 262.1,280.2 262.1,292.2 258.3,290.3" stroke="#111" stroke-width="0.4" fill="#fff" />
<polygon points="261,275.2 264.8,277.1 262.1,280.2 258.3,278.3" stroke="#111" stroke-width="0.4" fill="#fff" />
<line x1="260.2" y1="279.2" x2="260.2" y2="291.2" stroke="#111" stroke-width="0.35" />
<polygon points="301,254.5 274.7,284.9 274.7,301.4 301,271" stroke="#111" stroke-width="0.6" fill="#fff" />
<polygon points="299.3,253.7 273,284 274.7,284.9 301,254.5" stroke="#111" stroke-width="0.6" fill="#fff" />
<polygon points="302.5,258.9 309.9,262.6 309.9,273 302.5,269.5" stroke="#111" stroke-width="0.7" fill="#fff" />
<polygon points="296,265.3 301,259.8 301,272 296,277.5" stroke="#111" stroke-width="0.7" fill="#fff" />
<polygon points="230.2,265.1 273.2,286.6 273.2,303.1 230.2,281.6" stroke="#111" stroke-width="0.6" fill="#fff" />
<polygon points="231.7,263.4 274.7,284.9 273.2,286.6 230.2,265.1" stroke="#111" stroke-width="0.6" fill="#fff" />
<polygon points="315.7,261.9 293.7,287.2 293.7,303.7 315.7,278.4" stroke="#111" stroke-width="0.6" fill="#fff" />
<polygon points="314,261.1 292,286.4 293.7,287.2 315.7,261.9" stroke="#111" stroke-width="0.6" fill="#fff" />
<polygon points="304,275.4 316.6,281.7 316.6,298.2 304,291.9" stroke="#111" stroke-width="0.6" fill="#fff" />
<polygon points="305,274.2 317.6,280.5 316.6,281.7 304,275.4" stroke="#111" stroke-width="0.6" fill="#fff" />
<polygon points="328.5,268.3 306.5,293.6 306.5,310.1 328.5,284.8" stroke="#111" stroke-width="0.6" fill="#fff" />
<polygon points="327.3,267.7 305.3,293 306.5,293.6 328.5,268.3" stroke="#111" stroke-width="0.6" fill="#fff" />
<polygon points="321.1,276.8 334.9,283.7 334.9,300.2 321.1,293.3" stroke="#111" stroke-width="0.6" fill="#fff" />
<polygon points="322.2,275.6 336,282.5 334.9,283.7 321.1,276.8" stroke="#111" stroke-width="0.6" fill="#fff" />
<polygon points="313.3,285.8 327.1,292.7 327.1,309.2 313.3,302.3" stroke="#111" stroke-width="0.6" fill="#fff" />
<polygon points="314.3,284.6 328.1,291.5 327.1,292.7 313.3,285.8" stroke="#111" stroke-width="0.6" fill="#fff" />
<polygon points="344.1,276.1 322.1,301.4 322.1,317.9 344.1,292.6" stroke="#111" stroke-width="0.6" fill="#fff" />
<polygon points="342.4,275.2 320.4,300.6 322.1,301.4 344.1,276.1" stroke="#111" stroke-width="0.6" fill="#fff" />
<polygon points="292,286.4 322.1,301.4 322.1,317.9 292,302.9" stroke="#111" stroke-width="0.6" fill="#fff" />
<polygon points="293.5,284.7 323.6,299.7 322.1,301.4 292,286.4" stroke="#111" stroke-width="0.6" fill="#fff" />
<polygon points="294.3,296 302.3,299.9 302.3,305.4 294.3,301.5" stroke="#111" stroke-width="0.6" fill="#fff" />
<polygon points="229.5,278.5 238,282.7 238,291.7 229.5,287.5" stroke="#111" stroke-width="0.6" fill="#fff" />
<line x1="238" y1="291.7" x2="241" y2="293.2" stroke="#111" stroke-width="0.4" />
<polygon points="225.2,284.7 233.7,288.9 233.7,297.9 225.2,293.7" stroke="#111" stroke-width="0.6" fill="#fff" />
<line x1="233.7" y1="297.9" x2="236.7" y2="299.4" stroke="#111" stroke-width="0.4" />
<polygon points="220.3,290.2 228.8,294.4 228.8,303.4 220.3,299.2" stroke="#111" stroke-width="0.6" fill="#fff" />
<line x1="228.8" y1="303.4" x2="231.8" y2="304.9" stroke="#111" stroke-width="0.4" />
<polygon points="216,296.4 224.5,300.6 224.5,309.6 216,305.4" stroke="#111" stroke-width="0.6" fill="#fff" />
<line x1="224.5" y1="309.6" x2="227.5" y2="311.1" stroke="#111" stroke-width="0.4" />
<polygon points="254.8,277.4 247.1,286.1 232.9,315.1 232.9,331.6 247.1,302.6 254.8,293.9" stroke="#111" stroke-width="0.6" fill="#fff" />
<polygon points="253.1,276.5 245.4,285.3 231.2,314.3 232.9,315.1 247.1,286.1 254.8,277.4" stroke="#111" stroke-width="0.6" fill="#fff" />
<polygon points="257.1,286.3 254.4,289.4 254.4,301.4 257.1,298.3" stroke="#111" stroke-width="0.4" fill="#fff" />
<polygon points="250.6,287.5 254.4,289.4 254.4,301.4 250.6,299.5" stroke="#111" stroke-width="0.4" fill="#fff" />
<polygon points="253.3,284.4 257.1,286.3 254.4,289.4 250.6,287.5" stroke="#111" stroke-width="0.4" fill="#fff" />
<line x1="252.5" y1="288.5" x2="252.5" y2="300.5" stroke="#111" stroke-width="0.35" />
<polygon points="254.4,289.4 251.7,292.5 251.7,304.5 254.4,301.4" stroke="#111" stroke-width="0.4" fill="#fff" />
<polygon points="247.9,290.6 251.7,292.5 251.7,304.5 247.9,302.6" stroke="#111" stroke-width="0.4" fill="#fff" />
<polygon points="250.6,287.5 254.4,289.4 251.7,292.5 247.9,290.6" stroke="#111" stroke-width="0.4" fill="#fff" />
<line x1="249.8" y1="291.6" x2="249.8" y2="303.6" stroke="#111" stroke-width="0.35" />
<polygon points="251.7,292.5 250,295.6 250,307.6 251.7,304.5" stroke="#111" stroke-width="0.4" fill="#fff" />
<polygon points="246.2,293.7 250,295.6 250,307.6 246.2,305.7" stroke="#111" stroke-width="0.4" fill="#fff" />
<polygon points="247.9,290.6 251.7,292.5 250,295.6 246.2,293.7" stroke="#111" stroke-width="0.4" fill="#fff" />
<line x1="248.1" y1="294.7" x2="248.1" y2="306.7" stroke="#111" stroke-width="0.35" />
<polygon points="250,295.6 248.5,298.7 248.5,310.7 250,307.6" stroke="#111" stroke-width="0.4" fill="#fff" />
<polygon points="244.7,296.8 248.5,298.7 248.5,310.7 244.7,308.8" stroke="#111" stroke-width="0.4" fill="#fff" />
<polygon points="246.2,293.7 250,295.6 248.5,298.7 244.7,296.8" stroke="#111" stroke-width="0.4" fill="#fff" />
<line x1="246.6" y1="297.8" x2="246.6" y2="309.8" stroke="#111" stroke-width="0.35" />
<polygon points="248.5,298.7 247,301.9 247,313.9 248.5,310.7" stroke="#111" stroke-width="0.4" fill="#fff" />
<polygon points="243.2,300 247,301.9 247,313.9 243.2,312" stroke="#111" stroke-width="0.4" fill="#fff" />
<polygon points="244.7,296.8 248.5,298.7 247,301.9 243.2,300" stroke="#111" stroke-width="0.4" fill="#fff" />
<line x1="245.1" y1="300.9" x2="245.1" y2="312.9" stroke="#111" stroke-width="0.35" />
<polygon points="247,301.9 245.5,305 245.5,317 247,313.9" stroke="#111" stroke-width="0.4" fill="#fff" />
<polygon points="241.7,303.1 245.5,305 245.5,317 241.7,315.1" stroke="#111" stroke-width="0.4" fill="#fff" />
<polygon points="243.2,300 247,301.9 245.5,305 241.7,303.1" stroke="#111" stroke-width="0.4" fill="#fff" />
<line x1="243.6" y1="304" x2="243.6" y2="316" stroke="#111" stroke-width="0.35" />
<polygon points="245.5,305 243.9,308.1 243.9,320.1 245.5,317" stroke="#111" stroke-width="0.4" fill="#fff" />
<polygon points="240.1,306.2 243.9,308.1 243.9,320.1 240.1,318.2" stroke="#111" stroke-width="0.4" fill="#fff" />
<polygon points="241.7,303.1 245.5,305 243.9,308.1 240.1,306.2" stroke="#111" stroke-width="0.4" fill="#fff" />
<line x1="242" y1="307.1" x2="242" y2="319.1" stroke="#111" stroke-width="0.35" />
<polygon points="243.9,308.1 242.4,311.2 242.4,323.2 243.9,320.1" stroke="#111" stroke-width="0.4" fill="#fff" />
<polygon points="238.6,309.3 242.4,311.2 242.4,323.2 238.6,321.3" stroke="#111" stroke-width="0.4" fill="#fff" />
<polygon points="240.1,306.2 243.9,308.1 242.4,311.2 238.6,309.3" stroke="#111" stroke-width="0.4" fill="#fff" />
<line x1="240.5" y1="310.2" x2="240.5" y2="322.2" stroke="#111" stroke-width="0.35" />
<polygon points="242.4,311.2 240.9,314.3 240.9,326.3 242.4,323.2" stroke="#111" stroke-width="0.4" fill="#fff" />
<polygon points="237.1,312.4 240.9,314.3 240.9,326.3 237.1,324.4" stroke="#111" stroke-width="0.4" fill="#fff" />
<polygon points="238.6,309.3 242.4,311.2 240.9,314.3 237.1,312.4" stroke="#111" stroke-width="0.4" fill="#fff" />
<line x1="239" y1="313.4" x2="239" y2="325.4" stroke="#111" stroke-width="0.35" />
<polygon points="274.7,284.9 265.5,295.4 251.3,324.4 251.3,340.9 265.5,311.9 274.7,301.4" stroke="#111" stroke-width="0.6" fill="#fff" />
<polygon points="273,284 263.8,294.5 249.6,323.5 251.3,324.4 265.5,295.4 274.7,284.9" stroke="#111" stroke-width="0.6" fill="#fff" />
<polyline points="304.1,273 268.8,313.5 254.6,342.5" stroke="#111" stroke-width="0.45" fill="none" />
<polyline points="308.6,275.2 273.3,315.8 259.1,344.8" stroke="#111" stroke-width="0.45" fill="none" />
<polygon points="293.4,287.1 279.9,302.6 265.7,331.6 265.7,348.1 279.9,319.1 293.4,303.6" stroke="#111" stroke-width="0.6" fill="#fff" />
<polygon points="292,286.4 278.5,301.9 264.3,330.9 265.7,331.6 279.9,302.6 293.4,287.1" stroke="#111" stroke-width="0.6" fill="#fff" />
<polygon points="282.7,297.1 309.9,310.6 309.9,327.1 282.7,313.6" stroke="#111" stroke-width="0.6" fill="#fff" />
<polygon points="284.2,295.4 311.4,308.9 309.9,310.6 282.7,297.1" stroke="#111" stroke-width="0.6" fill="#fff" />
<polygon points="292,305.7 299.4,309.4 299.4,321.9 292,318.2" stroke="#111" stroke-width="0.6" fill="#fff" />
<polygon points="311.4,308.9 305.7,315.4 291.5,344.4 291.5,360.9 305.7,331.9 311.4,325.4" stroke="#111" stroke-width="0.6" fill="#fff" />
<polygon points="309.7,308.1 304,314.6 289.8,343.6 291.5,344.4 305.7,315.4 311.4,308.9" stroke="#111" stroke-width="0.6" fill="#fff" />
<polyline points="277.7,333.5 269.6,350" stroke="#111" stroke-width="0.4" fill="none" />
<polyline points="283.2,336.2 275.1,352.8" stroke="#111" stroke-width="0.4" fill="none" />
<polyline points="322.4,319.5 309.8,334 295.6,363" stroke="#111" stroke-width="0.4" fill="none" />
<polyline points="327.4,322 314.8,336.5 300.6,365.5" stroke="#111" stroke-width="0.4" fill="none" />
<polygon points="359.7,299.9 363.7,301.8 363.7,303.9 359.7,302" stroke="#111" stroke-width="0.55" fill="#fff" />
<polygon points="359.7,296.1 363.7,298 363.7,301.8 359.7,299.9" stroke="#111" stroke-width="0.55" fill="#fff" />
<line x1="359.7" y1="302" x2="359.7" y2="305.5" stroke="#111" stroke-width="0.45" />
<line x1="363.7" y1="303.9" x2="363.7" y2="307.3" stroke="#111" stroke-width="0.45" />
<line x1="361.5" y1="302.9" x2="361.5" y2="306.1" stroke="#111" stroke-width="0.4" />
<polygon points="347.7,303.7 351.7,305.6 351.7,307.7 347.7,305.8" stroke="#111" stroke-width="0.55" fill="#fff" />
<polygon points="347.7,299.9 351.7,301.8 351.7,305.6 347.7,303.7" stroke="#111" stroke-width="0.55" fill="#fff" />
<line x1="347.7" y1="305.8" x2="347.7" y2="309.3" stroke="#111" stroke-width="0.45" />
<line x1="351.7" y1="307.7" x2="351.7" y2="311.1" stroke="#111" stroke-width="0.45" />
<line x1="349.5" y1="306.7" x2="349.5" y2="309.9" stroke="#111" stroke-width="0.4" />
<ellipse cx="357.3" cy="305.3" rx="4.4" ry="2.7" fill="#fff" stroke="#111" stroke-width="0.6"/>
<line x1="357.3" y1="308" x2="357.3" y2="312.3" stroke="#111" stroke-width="0.5" />
<polygon points="362,308.5 366,310.4 366,312.5 362,310.6" stroke="#111" stroke-width="0.55" fill="#fff" />
<polygon points="362,304.7 366,306.6 366,310.4 362,308.5" stroke="#111" stroke-width="0.55" fill="#fff" />
<line x1="362" y1="310.6" x2="362" y2="314.1" stroke="#111" stroke-width="0.45" />
<line x1="366" y1="312.5" x2="366" y2="315.9" stroke="#111" stroke-width="0.45" />
<line x1="363.8" y1="311.5" x2="363.8" y2="314.7" stroke="#111" stroke-width="0.4" />
<polygon points="352.1,309.9 356.1,311.8 356.1,313.9 352.1,312" stroke="#111" stroke-width="0.55" fill="#fff" />
<polygon points="352.1,306.1 356.1,308 356.1,311.8 352.1,309.9" stroke="#111" stroke-width="0.55" fill="#fff" />
<line x1="352.1" y1="312" x2="352.1" y2="315.5" stroke="#111" stroke-width="0.45" />
<line x1="356.1" y1="313.9" x2="356.1" y2="317.3" stroke="#111" stroke-width="0.45" />
<line x1="353.9" y1="312.9" x2="353.9" y2="316.1" stroke="#111" stroke-width="0.4" />
<polygon points="337.9,309.6 341.9,311.5 341.9,313.6 337.9,311.7" stroke="#111" stroke-width="0.55" fill="#fff" />
<polygon points="337.9,305.8 341.9,307.7 341.9,311.5 337.9,309.6" stroke="#111" stroke-width="0.55" fill="#fff" />
<line x1="337.9" y1="311.7" x2="337.9" y2="315.2" stroke="#111" stroke-width="0.45" />
<line x1="341.9" y1="313.6" x2="341.9" y2="317" stroke="#111" stroke-width="0.45" />
<line x1="339.7" y1="312.6" x2="339.7" y2="315.8" stroke="#111" stroke-width="0.4" />
<polygon points="325.9,313.4 329.9,315.3 329.9,317.4 325.9,315.5" stroke="#111" stroke-width="0.55" fill="#fff" />
<polygon points="325.9,309.6 329.9,311.5 329.9,315.3 325.9,313.4" stroke="#111" stroke-width="0.55" fill="#fff" />
<line x1="325.9" y1="315.5" x2="325.9" y2="319" stroke="#111" stroke-width="0.45" />
<line x1="329.9" y1="317.4" x2="329.9" y2="320.8" stroke="#111" stroke-width="0.45" />
<line x1="327.7" y1="316.4" x2="327.7" y2="319.6" stroke="#111" stroke-width="0.4" />
<ellipse cx="335.5" cy="315" rx="4.4" ry="2.7" fill="#fff" stroke="#111" stroke-width="0.6"/>
<line x1="335.5" y1="317.7" x2="335.5" y2="322" stroke="#111" stroke-width="0.5" />
<polygon points="340.2,318.2 344.2,320.1 344.2,322.2 340.2,320.3" stroke="#111" stroke-width="0.55" fill="#fff" />
<polygon points="340.2,314.4 344.2,316.3 344.2,320.1 340.2,318.2" stroke="#111" stroke-width="0.55" fill="#fff" />
<line x1="340.2" y1="320.3" x2="340.2" y2="323.8" stroke="#111" stroke-width="0.45" />
<line x1="344.2" y1="322.2" x2="344.2" y2="325.6" stroke="#111" stroke-width="0.45" />
<line x1="342" y1="321.2" x2="342" y2="324.4" stroke="#111" stroke-width="0.4" />
<polygon points="330.3,319.6 334.3,321.5 334.3,323.6 330.3,321.7" stroke="#111" stroke-width="0.55" fill="#fff" />
<polygon points="330.3,315.8 334.3,317.7 334.3,321.5 330.3,319.6" stroke="#111" stroke-width="0.55" fill="#fff" />
<line x1="330.3" y1="321.7" x2="330.3" y2="325.2" stroke="#111" stroke-width="0.45" />
<line x1="334.3" y1="323.6" x2="334.3" y2="327" stroke="#111" stroke-width="0.45" />
<line x1="332.1" y1="322.6" x2="332.1" y2="325.8" stroke="#111" stroke-width="0.4" />
<polygon points="389.7,315.3 393.7,317.2 393.7,319.3 389.7,317.4" stroke="#111" stroke-width="0.55" fill="#fff" />
<polygon points="389.7,311.5 393.7,313.4 393.7,317.2 389.7,315.3" stroke="#111" stroke-width="0.55" fill="#fff" />
<line x1="389.7" y1="317.4" x2="389.7" y2="320.9" stroke="#111" stroke-width="0.45" />
<line x1="393.7" y1="319.3" x2="393.7" y2="322.7" stroke="#111" stroke-width="0.45" />
<line x1="391.5" y1="318.3" x2="391.5" y2="321.5" stroke="#111" stroke-width="0.4" />
<polygon points="377.7,319.1 381.7,321 381.7,323.1 377.7,321.2" stroke="#111" stroke-width="0.55" fill="#fff" />
<polygon points="377.7,315.3 381.7,317.2 381.7,321 377.7,319.1" stroke="#111" stroke-width="0.55" fill="#fff" />
<line x1="377.7" y1="321.2" x2="377.7" y2="324.7" stroke="#111" stroke-width="0.45" />
<line x1="381.7" y1="323.1" x2="381.7" y2="326.5" stroke="#111" stroke-width="0.45" />
<line x1="379.5" y1="322.1" x2="379.5" y2="325.3" stroke="#111" stroke-width="0.4" />
<ellipse cx="387.3" cy="320.7" rx="4.4" ry="2.7" fill="#fff" stroke="#111" stroke-width="0.6"/>
<line x1="387.3" y1="323.4" x2="387.3" y2="327.7" stroke="#111" stroke-width="0.5" />
<polygon points="392,323.9 396,325.8 396,327.9 392,326" stroke="#111" stroke-width="0.55" fill="#fff" />
<polygon points="392,320.1 396,322 396,325.8 392,323.9" stroke="#111" stroke-width="0.55" fill="#fff" />
<line x1="392" y1="326" x2="392" y2="329.5" stroke="#111" stroke-width="0.45" />
<line x1="396" y1="327.9" x2="396" y2="331.3" stroke="#111" stroke-width="0.45" />
<line x1="393.8" y1="326.9" x2="393.8" y2="330.1" stroke="#111" stroke-width="0.4" />
<polygon points="382.1,325.3 386.1,327.2 386.1,329.3 382.1,327.4" stroke="#111" stroke-width="0.55" fill="#fff" />
<polygon points="382.1,321.5 386.1,323.4 386.1,327.2 382.1,325.3" stroke="#111" stroke-width="0.55" fill="#fff" />
<line x1="382.1" y1="327.4" x2="382.1" y2="330.9" stroke="#111" stroke-width="0.45" />
<line x1="386.1" y1="329.3" x2="386.1" y2="332.7" stroke="#111" stroke-width="0.45" />
<line x1="383.9" y1="328.3" x2="383.9" y2="331.5" stroke="#111" stroke-width="0.4" />
<polygon points="365.1,322.6 369.1,324.5 369.1,326.6 365.1,324.7" stroke="#111" stroke-width="0.55" fill="#fff" />
<polygon points="365.1,318.8 369.1,320.7 369.1,324.5 365.1,322.6" stroke="#111" stroke-width="0.55" fill="#fff" />
<line x1="365.1" y1="324.7" x2="365.1" y2="328.2" stroke="#111" stroke-width="0.45" />
<line x1="369.1" y1="326.6" x2="369.1" y2="330" stroke="#111" stroke-width="0.45" />
<line x1="366.9" y1="325.6" x2="366.9" y2="328.8" stroke="#111" stroke-width="0.4" />
<polygon points="353.1,326.4 357.1,328.3 357.1,330.4 353.1,328.5" stroke="#111" stroke-width="0.55" fill="#fff" />
<polygon points="353.1,322.6 357.1,324.5 357.1,328.3 353.1,326.4" stroke="#111" stroke-width="0.55" fill="#fff" />
<line x1="353.1" y1="328.5" x2="353.1" y2="332" stroke="#111" stroke-width="0.45" />
<line x1="357.1" y1="330.4" x2="357.1" y2="333.8" stroke="#111" stroke-width="0.45" />
<line x1="354.9" y1="329.4" x2="354.9" y2="332.6" stroke="#111" stroke-width="0.4" />
<ellipse cx="362.7" cy="328" rx="4.4" ry="2.7" fill="#fff" stroke="#111" stroke-width="0.6"/>
<line x1="362.7" y1="330.7" x2="362.7" y2="335" stroke="#111" stroke-width="0.5" />
<polygon points="367.4,331.2 371.4,333.1 371.4,335.2 367.4,333.3" stroke="#111" stroke-width="0.55" fill="#fff" />
<polygon points="367.4,327.4 371.4,329.3 371.4,333.1 367.4,331.2" stroke="#111" stroke-width="0.55" fill="#fff" />
<line x1="367.4" y1="333.3" x2="367.4" y2="336.8" stroke="#111" stroke-width="0.45" />
<line x1="371.4" y1="335.2" x2="371.4" y2="338.6" stroke="#111" stroke-width="0.45" />
<line x1="369.2" y1="334.2" x2="369.2" y2="337.4" stroke="#111" stroke-width="0.4" />
<polygon points="357.5,332.6 361.5,334.5 361.5,336.6 357.5,334.7" stroke="#111" stroke-width="0.55" fill="#fff" />
<polygon points="357.5,328.8 361.5,330.7 361.5,334.5 357.5,332.6" stroke="#111" stroke-width="0.55" fill="#fff" />
<line x1="357.5" y1="334.7" x2="357.5" y2="338.2" stroke="#111" stroke-width="0.45" />
<line x1="361.5" y1="336.6" x2="361.5" y2="340" stroke="#111" stroke-width="0.45" />
<line x1="359.3" y1="335.6" x2="359.3" y2="338.8" stroke="#111" stroke-width="0.4" />
<polygon points="416.3,343.5 413.7,346.5 413.7,351.5 416.3,348.5" stroke="#111" stroke-width="0.55" fill="#fff" />
<polygon points="391.7,335.5 413.7,346.5 413.7,351.5 391.7,340.5" stroke="#111" stroke-width="0.55" fill="#fff" />
<polygon points="394.3,332.5 416.3,343.5 413.7,346.5 391.7,335.5" stroke="#111" stroke-width="0.55" fill="#fff" />
<ellipse cx="401.5" cy="331" rx="1.5" ry="1" fill="#fff" stroke="#111" stroke-width="0.5"/>
<ellipse cx="409" cy="334.5" rx="1.5" ry="1" fill="#fff" stroke="#111" stroke-width="0.5"/>
<ellipse cx="416" cy="338" rx="1.5" ry="1" fill="#fff" stroke="#111" stroke-width="0.5"/>
<ellipse cx="394.5" cy="340.5" rx="1.7" ry="1.1" fill="#fff" stroke="#111" stroke-width="0.5"/>
<ellipse cx="394.5" cy="342.7" rx="1.7" ry="1.1" fill="#fff" stroke="#111" stroke-width="0.5"/>
<ellipse cx="402" cy="344.5" rx="1.7" ry="1.1" fill="#fff" stroke="#111" stroke-width="0.5"/>
<ellipse cx="402" cy="346.7" rx="1.7" ry="1.1" fill="#fff" stroke="#111" stroke-width="0.5"/>
<polygon points="311.6,310.5 391.6,350.5 391.6,367 311.6,327" stroke="#111" stroke-width="0.5" fill="none" />
<line x1="318.8" y1="314.1" x2="318.8" y2="330.6" stroke="#111" stroke-width="0.4" />
<line x1="326" y1="317.7" x2="326" y2="334.2" stroke="#111" stroke-width="0.4" />
<line x1="333.2" y1="321.3" x2="333.2" y2="337.8" stroke="#111" stroke-width="0.4" />
<line x1="340.4" y1="324.9" x2="340.4" y2="341.4" stroke="#111" stroke-width="0.4" />
<line x1="347.6" y1="328.5" x2="347.6" y2="345" stroke="#111" stroke-width="0.4" />
<line x1="354.8" y1="332.1" x2="354.8" y2="348.6" stroke="#111" stroke-width="0.4" />
<line x1="362" y1="335.7" x2="362" y2="352.2" stroke="#111" stroke-width="0.4" />
<line x1="369.2" y1="339.3" x2="369.2" y2="355.8" stroke="#111" stroke-width="0.4" />
<line x1="376.4" y1="342.9" x2="376.4" y2="359.4" stroke="#111" stroke-width="0.4" />
<line x1="383.6" y1="346.5" x2="383.6" y2="363" stroke="#111" stroke-width="0.4" />
<line x1="311.6" y1="312.3" x2="391.6" y2="352.3" stroke="#111" stroke-width="0.4" />
<polygon points="317.3,324.4 329,329.3 329,339.8 317.3,334.8" stroke="#111" stroke-width="1.0" fill="#fff" />
<line x1="323.1" y1="326.8" x2="323.1" y2="337.3" stroke="#111" stroke-width="0.9" />
<line x1="297.7" y1="348.1" x2="367.2" y2="382.9" stroke="#111" stroke-width="0.6" />
<line x1="298.7" y1="346.6" x2="368.2" y2="381.4" stroke="#111" stroke-width="0.5" />
<path d="M319.2 343.1 l0 -3 q0.7 -1.9 3.2 -0.7 l3 1.5 q1.4 1.2 0.7 2.8 l0 2.5 l-1.5 -0.7 l0 -1.8 l-3.9 -2 l0 2.2z" fill="#fff" stroke="#111" stroke-width="0.65"/>
<line x1="319.6" y1="343.1" x2="319.2" y2="346.5" stroke="#111" stroke-width="0.5" />
<line x1="325.6" y1="345.7" x2="325.6" y2="348.5" stroke="#111" stroke-width="0.5" />
<path d="M326.5 346.9 l0 -3 q0.7 -1.9 3.2 -0.7 l3 1.5 q1.4 1.2 0.7 2.8 l0 2.5 l-1.5 -0.7 l0 -1.8 l-3.9 -2 l0 2.2z" fill="#fff" stroke="#111" stroke-width="0.65"/>
<line x1="326.9" y1="346.9" x2="326.5" y2="350.3" stroke="#111" stroke-width="0.5" />
<line x1="332.9" y1="349.5" x2="332.9" y2="352.3" stroke="#111" stroke-width="0.5" />
<path d="M333.8 350.7 l0 -3 q0.7 -1.9 3.2 -0.7 l3 1.5 q1.4 1.2 0.7 2.8 l0 2.5 l-1.5 -0.7 l0 -1.8 l-3.9 -2 l0 2.2z" fill="#fff" stroke="#111" stroke-width="0.65"/>
<line x1="334.2" y1="350.7" x2="333.8" y2="354.1" stroke="#111" stroke-width="0.5" />
<line x1="340.2" y1="353.3" x2="340.2" y2="356.1" stroke="#111" stroke-width="0.5" />
<path d="M341.1 354.5 l0 -3 q0.7 -1.9 3.2 -0.7 l3 1.5 q1.4 1.2 0.7 2.8 l0 2.5 l-1.5 -0.7 l0 -1.8 l-3.9 -2 l0 2.2z" fill="#fff" stroke="#111" stroke-width="0.65"/>
<line x1="341.5" y1="354.5" x2="341.1" y2="357.9" stroke="#111" stroke-width="0.5" />
<line x1="347.5" y1="357.1" x2="347.5" y2="359.9" stroke="#111" stroke-width="0.5" />
<path d="M348.4 358.3 l0 -3 q0.7 -1.9 3.2 -0.7 l3 1.5 q1.4 1.2 0.7 2.8 l0 2.5 l-1.5 -0.7 l0 -1.8 l-3.9 -2 l0 2.2z" fill="#fff" stroke="#111" stroke-width="0.65"/>
<line x1="348.8" y1="358.3" x2="348.4" y2="361.7" stroke="#111" stroke-width="0.5" />
<line x1="354.8" y1="360.9" x2="354.8" y2="363.7" stroke="#111" stroke-width="0.5" />
<path d="M355.7 362.1 l0 -3 q0.7 -1.9 3.2 -0.7 l3 1.5 q1.4 1.2 0.7 2.8 l0 2.5 l-1.5 -0.7 l0 -1.8 l-3.9 -2 l0 2.2z" fill="#fff" stroke="#111" stroke-width="0.65"/>
<line x1="356.1" y1="362.1" x2="355.7" y2="365.5" stroke="#111" stroke-width="0.5" />
<line x1="362.1" y1="364.7" x2="362.1" y2="367.5" stroke="#111" stroke-width="0.5" />
<path d="M315.8 347.4 l0 -3 q0.7 -1.9 3.2 -0.7 l3 1.5 q1.4 1.2 0.7 2.8 l0 2.5 l-1.5 -0.7 l0 -1.8 l-3.9 -2 l0 2.2z" fill="#fff" stroke="#111" stroke-width="0.65"/>
<line x1="316.2" y1="347.4" x2="315.8" y2="350.8" stroke="#111" stroke-width="0.5" />
<line x1="322.2" y1="350" x2="322.2" y2="352.8" stroke="#111" stroke-width="0.5" />
<path d="M323.1 351.2 l0 -3 q0.7 -1.9 3.2 -0.7 l3 1.5 q1.4 1.2 0.7 2.8 l0 2.5 l-1.5 -0.7 l0 -1.8 l-3.9 -2 l0 2.2z" fill="#fff" stroke="#111" stroke-width="0.65"/>
<line x1="323.5" y1="351.2" x2="323.1" y2="354.6" stroke="#111" stroke-width="0.5" />
<line x1="329.5" y1="353.8" x2="329.5" y2="356.6" stroke="#111" stroke-width="0.5" />
<path d="M330.4 355 l0 -3 q0.7 -1.9 3.2 -0.7 l3 1.5 q1.4 1.2 0.7 2.8 l0 2.5 l-1.5 -0.7 l0 -1.8 l-3.9 -2 l0 2.2z" fill="#fff" stroke="#111" stroke-width="0.65"/>
<line x1="330.8" y1="355" x2="330.4" y2="358.4" stroke="#111" stroke-width="0.5" />
<line x1="336.8" y1="357.6" x2="336.8" y2="360.4" stroke="#111" stroke-width="0.5" />
<path d="M337.7 358.8 l0 -3 q0.7 -1.9 3.2 -0.7 l3 1.5 q1.4 1.2 0.7 2.8 l0 2.5 l-1.5 -0.7 l0 -1.8 l-3.9 -2 l0 2.2z" fill="#fff" stroke="#111" stroke-width="0.65"/>
<line x1="338.1" y1="358.8" x2="337.7" y2="362.2" stroke="#111" stroke-width="0.5" />
<line x1="344.1" y1="361.4" x2="344.1" y2="364.2" stroke="#111" stroke-width="0.5" />
<path d="M345 362.6 l0 -3 q0.7 -1.9 3.2 -0.7 l3 1.5 q1.4 1.2 0.7 2.8 l0 2.5 l-1.5 -0.7 l0 -1.8 l-3.9 -2 l0 2.2z" fill="#fff" stroke="#111" stroke-width="0.65"/>
<line x1="345.4" y1="362.6" x2="345" y2="366" stroke="#111" stroke-width="0.5" />
<line x1="351.4" y1="365.2" x2="351.4" y2="368" stroke="#111" stroke-width="0.5" />
<path d="M352.3 366.4 l0 -3 q0.7 -1.9 3.2 -0.7 l3 1.5 q1.4 1.2 0.7 2.8 l0 2.5 l-1.5 -0.7 l0 -1.8 l-3.9 -2 l0 2.2z" fill="#fff" stroke="#111" stroke-width="0.65"/>
<line x1="352.7" y1="366.4" x2="352.3" y2="369.8" stroke="#111" stroke-width="0.5" />
<line x1="358.7" y1="369" x2="358.7" y2="371.8" stroke="#111" stroke-width="0.5" />
<path d="M312.4 351.7 l0 -3 q0.7 -1.9 3.2 -0.7 l3 1.5 q1.4 1.2 0.7 2.8 l0 2.5 l-1.5 -0.7 l0 -1.8 l-3.9 -2 l0 2.2z" fill="#fff" stroke="#111" stroke-width="0.65"/>
<line x1="312.8" y1="351.7" x2="312.4" y2="355.1" stroke="#111" stroke-width="0.5" />
<line x1="318.8" y1="354.3" x2="318.8" y2="357.1" stroke="#111" stroke-width="0.5" />
<path d="M319.7 355.5 l0 -3 q0.7 -1.9 3.2 -0.7 l3 1.5 q1.4 1.2 0.7 2.8 l0 2.5 l-1.5 -0.7 l0 -1.8 l-3.9 -2 l0 2.2z" fill="#fff" stroke="#111" stroke-width="0.65"/>
<line x1="320.1" y1="355.5" x2="319.7" y2="358.9" stroke="#111" stroke-width="0.5" />
<line x1="326.1" y1="358.1" x2="326.1" y2="360.9" stroke="#111" stroke-width="0.5" />
<path d="M327 359.3 l0 -3 q0.7 -1.9 3.2 -0.7 l3 1.5 q1.4 1.2 0.7 2.8 l0 2.5 l-1.5 -0.7 l0 -1.8 l-3.9 -2 l0 2.2z" fill="#fff" stroke="#111" stroke-width="0.65"/>
<line x1="327.4" y1="359.3" x2="327" y2="362.7" stroke="#111" stroke-width="0.5" />
<line x1="333.4" y1="361.9" x2="333.4" y2="364.7" stroke="#111" stroke-width="0.5" />
<path d="M334.3 363.1 l0 -3 q0.7 -1.9 3.2 -0.7 l3 1.5 q1.4 1.2 0.7 2.8 l0 2.5 l-1.5 -0.7 l0 -1.8 l-3.9 -2 l0 2.2z" fill="#fff" stroke="#111" stroke-width="0.65"/>
<line x1="334.7" y1="363.1" x2="334.3" y2="366.5" stroke="#111" stroke-width="0.5" />
<line x1="340.7" y1="365.7" x2="340.7" y2="368.5" stroke="#111" stroke-width="0.5" />
<path d="M341.6 366.9 l0 -3 q0.7 -1.9 3.2 -0.7 l3 1.5 q1.4 1.2 0.7 2.8 l0 2.5 l-1.5 -0.7 l0 -1.8 l-3.9 -2 l0 2.2z" fill="#fff" stroke="#111" stroke-width="0.65"/>
<line x1="342" y1="366.9" x2="341.6" y2="370.3" stroke="#111" stroke-width="0.5" />
<line x1="348" y1="369.5" x2="348" y2="372.3" stroke="#111" stroke-width="0.5" />
<path d="M348.9 370.7 l0 -3 q0.7 -1.9 3.2 -0.7 l3 1.5 q1.4 1.2 0.7 2.8 l0 2.5 l-1.5 -0.7 l0 -1.8 l-3.9 -2 l0 2.2z" fill="#fff" stroke="#111" stroke-width="0.65"/>
<line x1="349.3" y1="370.7" x2="348.9" y2="374.1" stroke="#111" stroke-width="0.5" />
<line x1="355.3" y1="373.3" x2="355.3" y2="376.1" stroke="#111" stroke-width="0.5" />
<path d="M309 356 l0 -3 q0.7 -1.9 3.2 -0.7 l3 1.5 q1.4 1.2 0.7 2.8 l0 2.5 l-1.5 -0.7 l0 -1.8 l-3.9 -2 l0 2.2z" fill="#fff" stroke="#111" stroke-width="0.65"/>
<line x1="309.4" y1="356" x2="309" y2="359.4" stroke="#111" stroke-width="0.5" />
<line x1="315.4" y1="358.6" x2="315.4" y2="361.4" stroke="#111" stroke-width="0.5" />
<path d="M316.3 359.8 l0 -3 q0.7 -1.9 3.2 -0.7 l3 1.5 q1.4 1.2 0.7 2.8 l0 2.5 l-1.5 -0.7 l0 -1.8 l-3.9 -2 l0 2.2z" fill="#fff" stroke="#111" stroke-width="0.65"/>
<line x1="316.7" y1="359.8" x2="316.3" y2="363.2" stroke="#111" stroke-width="0.5" />
<line x1="322.7" y1="362.4" x2="322.7" y2="365.2" stroke="#111" stroke-width="0.5" />
<path d="M323.6 363.6 l0 -3 q0.7 -1.9 3.2 -0.7 l3 1.5 q1.4 1.2 0.7 2.8 l0 2.5 l-1.5 -0.7 l0 -1.8 l-3.9 -2 l0 2.2z" fill="#fff" stroke="#111" stroke-width="0.65"/>
<line x1="324" y1="363.6" x2="323.6" y2="367" stroke="#111" stroke-width="0.5" />
<line x1="330" y1="366.2" x2="330" y2="369" stroke="#111" stroke-width="0.5" />
<path d="M330.9 367.4 l0 -3 q0.7 -1.9 3.2 -0.7 l3 1.5 q1.4 1.2 0.7 2.8 l0 2.5 l-1.5 -0.7 l0 -1.8 l-3.9 -2 l0 2.2z" fill="#fff" stroke="#111" stroke-width="0.65"/>
<line x1="331.3" y1="367.4" x2="330.9" y2="370.8" stroke="#111" stroke-width="0.5" />
<line x1="337.3" y1="370" x2="337.3" y2="372.8" stroke="#111" stroke-width="0.5" />
<path d="M338.2 371.2 l0 -3 q0.7 -1.9 3.2 -0.7 l3 1.5 q1.4 1.2 0.7 2.8 l0 2.5 l-1.5 -0.7 l0 -1.8 l-3.9 -2 l0 2.2z" fill="#fff" stroke="#111" stroke-width="0.65"/>
<line x1="338.6" y1="371.2" x2="338.2" y2="374.6" stroke="#111" stroke-width="0.5" />
<line x1="344.6" y1="373.8" x2="344.6" y2="376.6" stroke="#111" stroke-width="0.5" />
<path d="M345.5 375 l0 -3 q0.7 -1.9 3.2 -0.7 l3 1.5 q1.4 1.2 0.7 2.8 l0 2.5 l-1.5 -0.7 l0 -1.8 l-3.9 -2 l0 2.2z" fill="#fff" stroke="#111" stroke-width="0.65"/>
<line x1="345.9" y1="375" x2="345.5" y2="378.4" stroke="#111" stroke-width="0.5" />
<line x1="351.9" y1="377.6" x2="351.9" y2="380.4" stroke="#111" stroke-width="0.5" />
<path d="M305.6 360.3 l0 -3 q0.7 -1.9 3.2 -0.7 l3 1.5 q1.4 1.2 0.7 2.8 l0 2.5 l-1.5 -0.7 l0 -1.8 l-3.9 -2 l0 2.2z" fill="#fff" stroke="#111" stroke-width="0.65"/>
<line x1="306" y1="360.3" x2="305.6" y2="363.7" stroke="#111" stroke-width="0.5" />
<line x1="312" y1="362.9" x2="312" y2="365.7" stroke="#111" stroke-width="0.5" />
<path d="M312.9 364.1 l0 -3 q0.7 -1.9 3.2 -0.7 l3 1.5 q1.4 1.2 0.7 2.8 l0 2.5 l-1.5 -0.7 l0 -1.8 l-3.9 -2 l0 2.2z" fill="#fff" stroke="#111" stroke-width="0.65"/>
<line x1="313.3" y1="364.1" x2="312.9" y2="367.5" stroke="#111" stroke-width="0.5" />
<line x1="319.3" y1="366.7" x2="319.3" y2="369.5" stroke="#111" stroke-width="0.5" />
<path d="M320.2 367.9 l0 -3 q0.7 -1.9 3.2 -0.7 l3 1.5 q1.4 1.2 0.7 2.8 l0 2.5 l-1.5 -0.7 l0 -1.8 l-3.9 -2 l0 2.2z" fill="#fff" stroke="#111" stroke-width="0.65"/>
<line x1="320.6" y1="367.9" x2="320.2" y2="371.3" stroke="#111" stroke-width="0.5" />
<line x1="326.6" y1="370.5" x2="326.6" y2="373.3" stroke="#111" stroke-width="0.5" />
<path d="M327.5 371.7 l0 -3 q0.7 -1.9 3.2 -0.7 l3 1.5 q1.4 1.2 0.7 2.8 l0 2.5 l-1.5 -0.7 l0 -1.8 l-3.9 -2 l0 2.2z" fill="#fff" stroke="#111" stroke-width="0.65"/>
<line x1="327.9" y1="371.7" x2="327.5" y2="375.1" stroke="#111" stroke-width="0.5" />
<line x1="333.9" y1="374.3" x2="333.9" y2="377.1" stroke="#111" stroke-width="0.5" />
<path d="M334.8 375.5 l0 -3 q0.7 -1.9 3.2 -0.7 l3 1.5 q1.4 1.2 0.7 2.8 l0 2.5 l-1.5 -0.7 l0 -1.8 l-3.9 -2 l0 2.2z" fill="#fff" stroke="#111" stroke-width="0.65"/>
<line x1="335.2" y1="375.5" x2="334.8" y2="378.9" stroke="#111" stroke-width="0.5" />
<line x1="341.2" y1="378.1" x2="341.2" y2="380.9" stroke="#111" stroke-width="0.5" />
<path d="M342.1 379.3 l0 -3 q0.7 -1.9 3.2 -0.7 l3 1.5 q1.4 1.2 0.7 2.8 l0 2.5 l-1.5 -0.7 l0 -1.8 l-3.9 -2 l0 2.2z" fill="#fff" stroke="#111" stroke-width="0.65"/>
<line x1="342.5" y1="379.3" x2="342.1" y2="382.7" stroke="#111" stroke-width="0.5" />
<line x1="348.5" y1="381.9" x2="348.5" y2="384.7" stroke="#111" stroke-width="0.5" />
<polygon points="391.8,350.6 387,356.1 372.8,385.1 372.8,401.6 387,372.6 391.8,367.1" stroke="#111" stroke-width="0.6" fill="#fff" />
<polygon points="390.1,349.8 385.3,355.2 371.1,384.2 372.8,385.1 387,356.1 391.8,350.6" stroke="#111" stroke-width="0.6" fill="#fff" />
<polygon points="388.6,357.5 421.6,374 421.6,390.5 388.6,374" stroke="#111" stroke-width="0.5" fill="#fff" />
<line x1="396.6" y1="361.5" x2="396.6" y2="378" stroke="#111" stroke-width="0.4" />
<line x1="404.6" y1="365.5" x2="404.6" y2="382" stroke="#111" stroke-width="0.4" />
<line x1="412.6" y1="369.5" x2="412.6" y2="386" stroke="#111" stroke-width="0.4" />
<line x1="388.6" y1="359.3" x2="421.6" y2="375.8" stroke="#111" stroke-width="0.4" />
<polygon points="388.6,357.5 421.6,374 420.7,375.7 387.7,359.2" stroke="#111" stroke-width="0.6" fill="#fff" />
<polygon points="422.3,374.4 408.3,402.9 408.3,419.4 422.3,390.9" stroke="#111" stroke-width="0.6" fill="#fff" />
<polygon points="420.6,373.5 406.6,402 408.3,402.9 422.3,374.4" stroke="#111" stroke-width="0.6" fill="#fff" />
<polygon points="376.2,354 382.6,357 382.6,365.8 376.2,362.8" stroke="#111" stroke-width="1.0" fill="#fff" />
<polygon points="385.4,365.5 392.8,369.2 392.8,380.5 385.4,376.8" stroke="#111" stroke-width="1.0" fill="#fff" />
<polygon points="436.6,322.3 418.4,343.3 418.4,359.8 436.6,338.8" stroke="#111" stroke-width="0.6" fill="#fff" />
<polygon points="434.9,321.5 416.7,342.5 418.4,343.3 436.6,322.3" stroke="#111" stroke-width="0.6" fill="#fff" />
<polygon points="449.3,328.7 439.5,340 439.5,356.5 449.3,345.2" stroke="#111" stroke-width="0.6" fill="#fff" />
<polygon points="448.3,328.2 438.5,339.5 439.5,340 449.3,328.7" stroke="#111" stroke-width="0.6" fill="#fff" />
<polygon points="429.3,336.4 450.6,347 450.6,363.5 429.3,352.9" stroke="#111" stroke-width="0.6" fill="#fff" />
<polygon points="430.2,335.4 451.5,346 450.6,347 429.3,336.4" stroke="#111" stroke-width="0.6" fill="#fff" />
<polygon points="462.5,335.3 441.9,359 441.9,375.5 462.5,351.8" stroke="#111" stroke-width="0.6" fill="#fff" />
<polygon points="461.3,334.7 440.7,358.4 441.9,359 462.5,335.3" stroke="#111" stroke-width="0.6" fill="#fff" />
<polygon points="424.7,352.9 448.2,364.6 448.2,381.1 424.7,369.4" stroke="#111" stroke-width="0.6" fill="#fff" />
<polygon points="426.2,351.1 449.7,362.9 448.2,364.6 424.7,352.9" stroke="#111" stroke-width="0.6" fill="#fff" />
<polygon points="427.9,352 416.5,365.1 416.5,381.6 427.9,368.5" stroke="#111" stroke-width="0.6" fill="#fff" />
<polygon points="426.2,351.1 414.8,364.2 416.5,365.1 427.9,352" stroke="#111" stroke-width="0.6" fill="#fff" />
<polygon points="414.6,364.4 438.6,376.4 438.6,392.9 414.6,380.9" stroke="#111" stroke-width="0.6" fill="#fff" />
<polygon points="416.1,362.8 440.1,374.8 438.6,376.4 414.6,364.4" stroke="#111" stroke-width="0.6" fill="#fff" />
<path d="M459.2 347 l0 7 a3.8 2.2 0 0 0 7.6 0 l0 -7" fill="#fff" stroke="#111" stroke-width="0.5"/>
<ellipse cx="463" cy="347" rx="3.8" ry="2.2" fill="#fff" stroke="#111" stroke-width="0.5"/>
<polygon points="205.5,302 252,325.2 252,341.8 205.5,318.5" stroke="none" stroke-width="0.6" fill="#fbfbfb" />
<path d="M250.6 324.5L250.6 341M248.7 323.6L248.7 340.1M246.8 322.7L246.8 339.2M245 321.7L245 338.2M243.1 320.8L243.1 337.3M241.2 319.9L241.2 336.4M239.4 318.9L239.4 335.4M237.5 318L237.5 334.5M235.6 317.1L235.6 333.6M233.7 316.1L233.7 332.6M231.9 315.2L231.9 331.7M230 314.3L230 330.8M228.1 313.3L228.1 329.8M226.3 312.4L226.3 328.9M224.4 311.4L224.4 327.9M222.5 310.5L222.5 327M220.7 309.6L220.7 326.1M218.8 308.6L218.8 325.1M216.9 307.7L216.9 324.2M215 306.8L215 323.3M213.2 305.8L213.2 322.3M211.3 304.9L211.3 321.4M209.4 304L209.4 320.5M207.6 303L207.6 319.5M205.7 302.1L205.7 318.6" stroke="#3a3a3a" stroke-width="0.42" fill="none"/>
<polygon points="205.5,302 252,325.2 252,341.8 205.5,318.5" stroke="#111" stroke-width="0.5" fill="none" />
<polygon points="252,325.2 260.4,329.4 260.4,345.9 252,341.8" stroke="none" stroke-width="0.6" fill="#fbfbfb" />
<path d="M259.9 329.2L259.9 345.7M258.1 328.3L258.1 344.8M256.2 327.3L256.2 343.8M254.3 326.4L254.3 342.9M252.4 325.5L252.4 342" stroke="#3a3a3a" stroke-width="0.42" fill="none"/>
<polygon points="252,325.2 260.4,329.4 260.4,345.9 252,341.8" stroke="#111" stroke-width="0.5" fill="none" />
<polygon points="252,329.8 260.4,333.9 260.4,345.9 252,341.8" stroke="#111" stroke-width="0.7" fill="#fff" />
<polygon points="260.4,329.4 290.2,344.4 290.2,360.9 260.4,345.9" stroke="none" stroke-width="0.6" fill="#fbfbfb" />
<path d="M289.9 344.2L289.9 360.7M288 343.2L288 359.7M286.1 342.3L286.1 358.8M284.2 341.4L284.2 357.9M282.4 340.4L282.4 356.9M280.5 339.5L280.5 356M278.6 338.6L278.6 355.1M276.8 337.6L276.8 354.1M274.9 336.7L274.9 353.2M273 335.8L273 352.3M271.1 334.8L271.1 351.3M269.3 333.9L269.3 350.4M267.4 333L267.4 349.5M265.5 332L265.5 348.5M263.7 331.1L263.7 347.6M261.8 330.2L261.8 346.6" stroke="#3a3a3a" stroke-width="0.42" fill="none"/>
<polygon points="260.4,329.4 290.2,344.4 290.2,360.9 260.4,345.9" stroke="#111" stroke-width="0.5" fill="none" />
<polygon points="290.2,344.4 297.7,348.1 297.7,364.6 290.2,360.9" stroke="#111" stroke-width="0.5" fill="#fff" />
<polygon points="290.2,346.6 297.7,350.3 297.7,368.1 290.2,364.4" stroke="#111" stroke-width="0.5" fill="#2b2b2b" />
<path d="M297.6 350.2L297.6 368.1M296 349.4L296 367.2M294.4 348.6L294.4 366.4M292.8 347.8L292.8 365.6M291.2 347L291.2 364.8" stroke="#5a5a5a" stroke-width="0.35" fill="none"/>
<polygon points="297.7,348.1 367.2,382.9 367.2,399.4 297.7,364.6" stroke="#111" stroke-width="0.55" fill="none" />
<line x1="309.2" y1="353.9" x2="309.2" y2="370.4" stroke="#111" stroke-width="0.45" />
<line x1="320.7" y1="359.6" x2="320.7" y2="376.1" stroke="#111" stroke-width="0.45" />
<line x1="332.2" y1="365.4" x2="332.2" y2="381.9" stroke="#111" stroke-width="0.45" />
<line x1="343.7" y1="371.1" x2="343.7" y2="387.6" stroke="#111" stroke-width="0.45" />
<line x1="355.2" y1="376.9" x2="355.2" y2="393.4" stroke="#111" stroke-width="0.45" />
<polygon points="367.2,382.9 370.8,384.6 370.8,401.1 367.2,399.4" stroke="#111" stroke-width="0.5" fill="#fff" />
<polygon points="367.2,385.1 370.8,386.8 370.8,404.6 367.2,402.9" stroke="#111" stroke-width="0.5" fill="#2b2b2b" />
<path d="M369.6 386.2L369.6 404.1M368 385.4L368 403.2" stroke="#5a5a5a" stroke-width="0.35" fill="none"/>
<polygon points="370.8,384.6 403.8,401.1 403.8,417.6 370.8,401.1" stroke="#111" stroke-width="0.55" fill="none" />
<line x1="382.3" y1="390.4" x2="382.3" y2="406.9" stroke="#111" stroke-width="0.45" />
<line x1="393.8" y1="396.1" x2="393.8" y2="412.6" stroke="#111" stroke-width="0.45" />
<polygon points="403.8,401.1 421.7,410.1 421.7,426.6 403.8,417.6" stroke="none" stroke-width="0.6" fill="#fbfbfb" />
<path d="M420.8 409.6L420.8 426.1M418.9 408.7L418.9 425.2M417 407.8L417 424.3M415.1 406.8L415.1 423.3M413.3 405.9L413.3 422.4M411.4 404.9L411.4 421.4M409.5 404L409.5 420.5M407.7 403.1L407.7 419.6M405.8 402.1L405.8 418.6M403.9 401.2L403.9 417.7" stroke="#3a3a3a" stroke-width="0.42" fill="none"/>
<polygon points="403.8,401.1 421.7,410.1 421.7,426.6 403.8,417.6" stroke="#111" stroke-width="0.5" fill="none" />
<polygon points="205.5,302 297.7,348.1 298.7,346.6 206.6,299.9" stroke="#111" stroke-width="0.55" fill="#fff" />
<polygon points="403.8,401.1 421.7,410.1 423.2,408.2 404.8,399.6" stroke="#111" stroke-width="0.55" fill="#fff" />
<line x1="367.2" y1="382.9" x2="403.8" y2="401.1" stroke="#111" stroke-width="0.6" />
<line x1="368.2" y1="381.4" x2="404.8" y2="399.6" stroke="#111" stroke-width="0.5" />
<polyline points="257.8,230.5 219.7,273 205.5,302" stroke="#111" stroke-width="0.9" fill="none" />
<polygon points="421.7,410.5 448.8,362.2 450.2,362 450.2,388 421.7,427.5" stroke="none" stroke-width="0.6" fill="#c6c6c6" />
<path d="M449.5 362.1L449.5 389M446.4 366.5L446.4 393.3M443.3 372L443.3 397.6M440.2 377.5L440.2 401.9M437.1 383.1L437.1 406.2M434 388.6L434 410.5M430.9 394.1L430.9 414.7M427.8 399.6L427.8 419M424.7 405.2L424.7 423.3" stroke="#a6a6a6" stroke-width="1.3" fill="none"/>
<polygon points="421.7,410.5 448.8,362.2 450.2,362 450.2,388 421.7,427.5" stroke="#111" stroke-width="0.5" fill="none" />
<polygon points="440.6,372 444.6,365.5 444.6,384.5 440.6,390.5" stroke="#111" stroke-width="0.4" fill="#fff" />
<polygon points="445.2,377.5 449.4,371 449.4,383 445.2,389.5" stroke="#111" stroke-width="0.4" fill="#fff" />
<polygon points="450.2,360 474,348.5 483.4,344 483.4,360 450.2,387" stroke="none" stroke-width="0.6" fill="#fdfdfd" />
<path d="M481.6 344.9L481.6 361.5M478.8 346.2L478.8 363.7M476 347.5L476 366M473.2 348.9L473.2 368.3M470.4 350.2L470.4 370.6M467.6 351.6L467.6 372.8M464.8 352.9L464.8 375.1M462 354.3L462 377.4M459.2 355.7L459.2 379.7M456.4 357L456.4 382M453.6 358.4L453.6 384.2M450.8 359.7L450.8 386.5" stroke="#9a9a9a" stroke-width="1.3" fill="none"/>
<polygon points="450.2,360 474,348.5 483.4,344 483.4,360 450.2,387" stroke="#111" stroke-width="0.5" fill="none" />
<polygon points="473,349 475,348 475,369.5 473,371" stroke="#111" stroke-width="0.4" fill="#fff" />
<polygon points="470,361.5 472.6,360.3 472.6,364 470,365.2" stroke="#111" stroke-width="0.6" fill="#888" />
<polygon points="441.5,422.4 483.9,380.8 489.5,376.2 519,363.3 542.1,402.1 542.1,419.1 490.4,438 465.5,451 451.6,456 441.5,440.9" stroke="none" stroke-width="0.6" fill="#fff" />
<polygon points="441.5,422.4 483.9,380.8 489.5,376.2 519,363.3 519,385.3 489.5,398.2 483.9,400.8 445.5,439.4" stroke="none" stroke-width="0.6" fill="#fff" />
<polyline points="518.5,381.5 497.2,397.5 505.5,411" stroke="#111" stroke-width="0.55" fill="none" />
<line x1="518.8" y1="363.3" x2="518.8" y2="381.5" stroke="#111" stroke-width="0.55" />
<polyline points="518.5,381.5 533,403" stroke="#111" stroke-width="0.45" fill="none" />
<polygon points="486.4,384.9 498.6,412 498.6,420 486.4,409.2" stroke="#111" stroke-width="0.55" fill="#fff" />
<polyline points="484.6,385.8 496.8,413" stroke="#111" stroke-width="0.5" fill="none" />
<line x1="474.9" y1="396.4" x2="474.9" y2="437.7" stroke="#111" stroke-width="0.55" />
<polyline points="474.9,396.4 485.7,384.9" stroke="#111" stroke-width="0.5" fill="none" />
<polyline points="460,426.2 474.9,416.7 486.4,409.2" stroke="#111" stroke-width="0.5" fill="none" />
<polyline points="474.9,416.7 484.4,432" stroke="#111" stroke-width="0.45" fill="none" />
<polygon points="479.7,398.5 484.4,395.7 484.4,406.5 479.7,409.3" stroke="#111" stroke-width="0.7" fill="#fff" />
<polygon points="451.2,418 464.1,433.6 464.1,436 451.2,432" stroke="#111" stroke-width="0.5" fill="#fff" />
<polygon points="451.2,423.5 455.3,421.4 455.3,433.6 451.2,436.3" stroke="#111" stroke-width="0.6" fill="#fff" />
<polygon points="441.5,422.4 483.9,380.8 485.1,383.2 442.7,424.8" stroke="#111" stroke-width="0.5" fill="#fff" />
<line x1="443.4" y1="420.5" x2="444.6" y2="422.9" stroke="#111" stroke-width="0.35" />
<line x1="445.4" y1="418.6" x2="446.6" y2="421" stroke="#111" stroke-width="0.35" />
<line x1="447.3" y1="416.7" x2="448.5" y2="419.1" stroke="#111" stroke-width="0.35" />
<line x1="449.2" y1="414.8" x2="450.4" y2="417.2" stroke="#111" stroke-width="0.35" />
<line x1="451.1" y1="412.9" x2="452.3" y2="415.3" stroke="#111" stroke-width="0.35" />
<line x1="453.1" y1="411.1" x2="454.3" y2="413.5" stroke="#111" stroke-width="0.35" />
<line x1="455" y1="409.2" x2="456.2" y2="411.6" stroke="#111" stroke-width="0.35" />
<line x1="456.9" y1="407.3" x2="458.1" y2="409.7" stroke="#111" stroke-width="0.35" />
<line x1="458.8" y1="405.4" x2="460" y2="407.8" stroke="#111" stroke-width="0.35" />
<line x1="460.8" y1="403.5" x2="462" y2="405.9" stroke="#111" stroke-width="0.35" />
<line x1="462.7" y1="401.6" x2="463.9" y2="404" stroke="#111" stroke-width="0.35" />
<line x1="464.6" y1="399.7" x2="465.8" y2="402.1" stroke="#111" stroke-width="0.35" />
<line x1="466.6" y1="397.8" x2="467.8" y2="400.2" stroke="#111" stroke-width="0.35" />
<line x1="468.5" y1="395.9" x2="469.7" y2="398.3" stroke="#111" stroke-width="0.35" />
<line x1="470.4" y1="394" x2="471.6" y2="396.4" stroke="#111" stroke-width="0.35" />
<line x1="472.3" y1="392.1" x2="473.5" y2="394.5" stroke="#111" stroke-width="0.35" />
<line x1="474.3" y1="390.3" x2="475.5" y2="392.7" stroke="#111" stroke-width="0.35" />
<line x1="476.2" y1="388.4" x2="477.4" y2="390.8" stroke="#111" stroke-width="0.35" />
<line x1="478.1" y1="386.5" x2="479.3" y2="388.9" stroke="#111" stroke-width="0.35" />
<line x1="480" y1="384.6" x2="481.2" y2="387" stroke="#111" stroke-width="0.35" />
<line x1="482" y1="382.7" x2="483.2" y2="385.1" stroke="#111" stroke-width="0.35" />
<polygon points="483.9,380.8 489.5,376.2 490.7,378.6 485.1,383.2" stroke="#111" stroke-width="0.5" fill="#fff" />
<line x1="485.8" y1="379.3" x2="487" y2="381.7" stroke="#111" stroke-width="0.35" />
<line x1="487.6" y1="377.7" x2="488.8" y2="380.1" stroke="#111" stroke-width="0.35" />
<polygon points="489.5,376.2 519,363.3 519.8,365.7 490.3,378.6" stroke="#111" stroke-width="0.5" fill="#fff" />
<line x1="491.6" y1="375.3" x2="492.4" y2="377.7" stroke="#111" stroke-width="0.35" />
<line x1="493.7" y1="374.4" x2="494.5" y2="376.8" stroke="#111" stroke-width="0.35" />
<line x1="495.8" y1="373.4" x2="496.6" y2="375.8" stroke="#111" stroke-width="0.35" />
<line x1="497.9" y1="372.5" x2="498.7" y2="374.9" stroke="#111" stroke-width="0.35" />
<line x1="500" y1="371.6" x2="500.8" y2="374" stroke="#111" stroke-width="0.35" />
<line x1="502.1" y1="370.7" x2="502.9" y2="373.1" stroke="#111" stroke-width="0.35" />
<line x1="504.2" y1="369.8" x2="505.1" y2="372.1" stroke="#111" stroke-width="0.35" />
<line x1="506.4" y1="368.8" x2="507.2" y2="371.2" stroke="#111" stroke-width="0.35" />
<line x1="508.5" y1="367.9" x2="509.3" y2="370.3" stroke="#111" stroke-width="0.35" />
<line x1="510.6" y1="367" x2="511.4" y2="369.4" stroke="#111" stroke-width="0.35" />
<line x1="512.7" y1="366.1" x2="513.5" y2="368.5" stroke="#111" stroke-width="0.35" />
<line x1="514.8" y1="365.1" x2="515.6" y2="367.5" stroke="#111" stroke-width="0.35" />
<line x1="516.9" y1="364.2" x2="517.7" y2="366.6" stroke="#111" stroke-width="0.35" />
<polygon points="519,363.3 542.1,402.1 539.9,402.7 518.4,365.9" stroke="#111" stroke-width="0.5" fill="#fff" />
<line x1="540" y1="402.5" x2="540" y2="399" stroke="#111" stroke-width="0.4" />
<polygon points="490.4,417.2 496,412.2 542.1,402.1 542.1,419.6 490.4,438" stroke="none" stroke-width="0.6" fill="#fff" />
<path d="M541.8 402.2L541.8 419.7M539.6 402.6L539.6 420.5M537.5 403.1L537.5 421.2M535.4 403.6L535.4 422M533.2 404L533.2 422.8M531.1 404.5L531.1 423.5M528.9 405L528.9 424.3M526.8 405.5L526.8 425.1M524.6 405.9L524.6 425.8M522.5 406.4L522.5 426.6M520.3 406.9L520.3 427.4M518.2 407.3L518.2 428.1M516 407.8L516 428.9M513.9 408.3L513.9 429.7M511.7 408.8L511.7 430.4M509.6 409.2L509.6 431.2M507.4 409.7L507.4 431.9M505.3 410.2L505.3 432.7M503.1 410.6L503.1 433.5M501 411.1L501 434.2M498.8 411.6L498.8 435M496.7 412.1L496.7 435.8M494.5 413.5L494.5 436.5M492.4 415.5L492.4 437.3" stroke="#444" stroke-width="0.5" fill="none"/>
<polygon points="490.4,417.2 496,412.2 542.1,402.1 542.1,419.6 490.4,438" stroke="#111" stroke-width="0.5" fill="none" />
<polygon points="493.2,426.8 500.5,424.2 500.5,434.8 493.2,437.4" stroke="#111" stroke-width="0.6" fill="#fff" />
<polyline points="542.1,402.1 496,412.2 489.5,417.8 462.7,434.4 451.6,439 441.5,422.4" stroke="#111" stroke-width="0.6" fill="none" />
<polyline points="540.1,400.5 496,410.2 488.6,416.2 462.5,432.3 452.5,436.5 443.6,422" stroke="#111" stroke-width="0.45" fill="none" />
<line x1="488.5" y1="418" x2="488.5" y2="439" stroke="#111" stroke-width="0.55" />
<line x1="484.4" y1="420.5" x2="484.4" y2="440.8" stroke="#111" stroke-width="0.5" />
<polyline points="466.1,449.2 488.5,439" stroke="#111" stroke-width="0.55" fill="none" />
<polyline points="466.1,450.6 488.5,440.4" stroke="#111" stroke-width="0.45" fill="none" />
<polygon points="462.7,434.4 465.5,433 465.5,451 462.7,452.4" stroke="#000" stroke-width="0.5" fill="#1a1a1a" />
<polygon points="441.5,422.4 451.6,439 451.6,456 441.5,440.9" stroke="none" stroke-width="0.6" fill="#fff" />
<path d="M451.4 438.7L451.4 455.7M449.5 435.6L449.5 452.9M447.7 432.6L447.7 450.2M445.8 429.5L445.8 447.4M444 426.5L444 444.6M442.1 423.5L442.1 441.9" stroke="#3a3a3a" stroke-width="0.45" fill="none"/>
<polygon points="441.5,422.4 451.6,439 451.6,456 441.5,440.9" stroke="#111" stroke-width="0.5" fill="none" />
<polygon points="451.6,439 462.7,434.4 462.7,452.4 451.6,456" stroke="none" stroke-width="0.6" fill="#fff" />
<path d="M462.5 434.5L462.5 452.5M460.6 435.2L460.6 453.1M458.8 436L458.8 453.7M456.9 436.8L456.9 454.3M455.1 437.5L455.1 454.9M453.2 438.3L453.2 455.5" stroke="#3a3a3a" stroke-width="0.45" fill="none"/>
<polygon points="451.6,439 462.7,434.4 462.7,452.4 451.6,456" stroke="#111" stroke-width="0.5" fill="none" />
<polygon points="455.5,443 457,442.4 457,455 455.5,455.6" stroke="#111" stroke-width="0.4" fill="#fff" />
<polyline points="441.5,441 481,503.4 571,468.3 547,416" stroke="#111" stroke-width="0.5" fill="none" />
<polygon points="456.5,449.4 458.3,449.4 458.3,463.9 456.5,463.9" stroke="#111" stroke-width="0.4" fill="#fff" />
<polygon points="464.8,461.9 466.6,461.9 466.6,476.4 464.8,476.4" stroke="#111" stroke-width="0.4" fill="#fff" />
<polygon points="473.1,475.7 474.9,475.7 474.9,490.2 473.1,490.2" stroke="#111" stroke-width="0.4" fill="#fff" />
<polygon points="480.1,488.5 481.9,488.5 481.9,503 480.1,503" stroke="#111" stroke-width="0.4" fill="#fff" />
<polygon points="546.5,413.4 548.3,413.4 548.3,427.9 546.5,427.9" stroke="#111" stroke-width="0.4" fill="#fff" />
<polygon points="554.8,426.4 556.6,426.4 556.6,440.9 554.8,440.9" stroke="#111" stroke-width="0.4" fill="#fff" />
<polygon points="562.6,439.7 564.4,439.7 564.4,454.2 562.6,454.2" stroke="#111" stroke-width="0.4" fill="#fff" />
<polygon points="570.1,453 571.9,453 571.9,467.5 570.1,467.5" stroke="#111" stroke-width="0.4" fill="#fff" />
<line x1="205.3" y1="91" x2="205.3" y2="302" stroke="#9a9a9a" stroke-width="0.6" stroke-dasharray="3.2 2.6"/>
<line x1="257.5" y1="122" x2="257.5" y2="231" stroke="#9a9a9a" stroke-width="0.6" stroke-dasharray="3.2 2.6"/>
<line x1="427" y1="222" x2="427" y2="432" stroke="#9a9a9a" stroke-width="0.6" stroke-dasharray="3.2 2.6"/>
<line x1="478.6" y1="277" x2="478.6" y2="500" stroke="#9a9a9a" stroke-width="0.6" stroke-dasharray="3.2 2.6"/>
<line x1="519.5" y1="257" x2="519.5" y2="363" stroke="#9a9a9a" stroke-width="0.6" stroke-dasharray="3.2 2.6"/>
<line x1="572.8" y1="240" x2="572.8" y2="468" stroke="#9a9a9a" stroke-width="0.6" stroke-dasharray="3.2 2.6"/>
<line x1="187.4" y1="333" x2="187.4" y2="540" stroke="#9a9a9a" stroke-width="0.6" stroke-dasharray="3.2 2.6"/>
<line x1="259" y1="341" x2="259" y2="438.5" stroke="#9a9a9a" stroke-width="0.6" stroke-dasharray="3.2 2.6"/>
<line x1="599.6" y1="475" x2="599.6" y2="665" stroke="#9a9a9a" stroke-width="0.6" stroke-dasharray="3.2 2.6"/>
<line x1="472.6" y1="540" x2="472.6" y2="665" stroke="#9a9a9a" stroke-width="0.6" stroke-dasharray="3.2 2.6"/>
<line x1="33" y1="272.3" x2="236" y2="272.3" stroke="#111" stroke-width="0.9" stroke-dasharray="2.6 2.4"/>
<line x1="33" y1="301.6" x2="310.8" y2="301.6" stroke="#111" stroke-width="0.9" stroke-dasharray="2.6 2.4"/>
<line x1="33" y1="331.2" x2="283.5" y2="331.2" stroke="#111" stroke-width="0.9" stroke-dasharray="2.6 2.4"/>
<line x1="374.4" y1="228.6" x2="374.4" y2="315.3" stroke="#111" stroke-width="0.9" stroke-dasharray="2.6 2.4"/>
<line x1="441.6" y1="262" x2="441.6" y2="349" stroke="#111" stroke-width="0.9" stroke-dasharray="2.6 2.4"/>
<line x1="508.1" y1="306" x2="508.1" y2="399" stroke="#111" stroke-width="0.9" stroke-dasharray="2.6 2.4"/>
<line x1="323.6" y1="373" x2="323.6" y2="516" stroke="#111" stroke-width="0.9" stroke-dasharray="2.6 2.4"/>
<line x1="387.2" y1="405.8" x2="387.2" y2="571" stroke="#111" stroke-width="0.9" stroke-dasharray="2.6 2.4"/>
<line x1="468.7" y1="426" x2="468.7" y2="571" stroke="#111" stroke-width="0.9" stroke-dasharray="2.6 2.4"/>
<line x1="511.4" y1="464.5" x2="511.4" y2="571" stroke="#111" stroke-width="0.9" stroke-dasharray="2.6 2.4"/>
<circle cx="236" cy="272.2" r="1.55" fill="#000"/>
<circle cx="310.8" cy="301.4" r="1.55" fill="#000"/>
<circle cx="283.5" cy="331.2" r="1.55" fill="#000"/>
<circle cx="374.5" cy="315.3" r="1.55" fill="#000"/>
<circle cx="441.4" cy="349" r="1.55" fill="#000"/>
<circle cx="508" cy="398.9" r="1.55" fill="#000"/>
<circle cx="323.5" cy="373" r="1.55" fill="#000"/>
<circle cx="387.3" cy="405.8" r="1.55" fill="#000"/>
<circle cx="468.6" cy="426.1" r="1.55" fill="#000"/>
<circle cx="511.3" cy="464.5" r="1.55" fill="#000"/>
<text x="33" y="251" font-size="11.5" font-weight="bold" fill="#111" stroke="#111" stroke-width="0.25" textLength="70" lengthAdjust="spacingAndGlyphs">Раздевалки</text>
<text x="33" y="263.8" font-size="11.5" font-weight="bold" fill="#111" stroke="#111" stroke-width="0.25" textLength="65.5" lengthAdjust="spacingAndGlyphs">и душевые</text>
<text x="33" y="294" font-size="11.5" font-weight="bold" fill="#111" stroke="#111" stroke-width="0.25" textLength="18.7" lengthAdjust="spacingAndGlyphs">С/У</text>
<text x="33" y="323.8" font-size="11.5" font-weight="bold" fill="#111" stroke="#111" stroke-width="0.25" textLength="78.4" lengthAdjust="spacingAndGlyphs">Инвентарная</text>
<text x="337.9" y="237.7" font-size="11.5" font-weight="bold" fill="#111" stroke="#111" stroke-width="0.25" textLength="29.5" lengthAdjust="spacingAndGlyphs">Кафе</text>
<text x="415.8" y="270.6" font-size="11.5" font-weight="bold" fill="#111" stroke="#111" stroke-width="0.25" textLength="18.8" lengthAdjust="spacingAndGlyphs">С/У</text>
<text x="514.6" y="314.9" font-size="11.5" font-weight="bold" fill="#111" stroke="#111" stroke-width="0.25" textLength="74.7" lengthAdjust="spacingAndGlyphs">Техническое</text>
<text x="514.6" y="328.8" font-size="11.5" font-weight="bold" fill="#111" stroke="#111" stroke-width="0.25" textLength="69.2" lengthAdjust="spacingAndGlyphs">помещение</text>
<text x="248.7" y="503.7" font-size="11.5" font-weight="bold" fill="#111" stroke="#111" stroke-width="0.25" textLength="67.3" lengthAdjust="spacingAndGlyphs">Аудитория/</text>
<text x="199.3" y="517.2" font-size="11.5" font-weight="bold" fill="#111" stroke="#111" stroke-width="0.25" textLength="116.7" lengthAdjust="spacingAndGlyphs">универсальный зал</text>
<text x="285.6" y="570.7" font-size="11.5" font-weight="bold" fill="#111" stroke="#111" stroke-width="0.25" textLength="94.7" lengthAdjust="spacingAndGlyphs">Администрация</text>
<text x="419.6" y="570.6" font-size="11.5" font-weight="bold" fill="#111" stroke="#111" stroke-width="0.25" textLength="43" lengthAdjust="spacingAndGlyphs">Охрана</text>
<text x="516" y="557.7" font-size="11.5" font-weight="bold" fill="#111" stroke="#111" stroke-width="0.25" textLength="50.5" lengthAdjust="spacingAndGlyphs">Уличное</text>
<text x="516" y="570.6" font-size="11.5" font-weight="bold" fill="#111" stroke="#111" stroke-width="0.25" textLength="55.6" lengthAdjust="spacingAndGlyphs">хранение</text>
<text x="467.7" y="624.7" font-size="11.5" font-weight="normal" fill="#222" textLength="52.4" lengthAdjust="spacingAndGlyphs">ЯХТ-КЛУБ</text>
<text x="523.3" y="624.7" font-size="11.5" font-weight="normal" fill="#222" textLength="3.8" lengthAdjust="spacingAndGlyphs">/</text>
<text x="534.3" y="624.7" font-size="11.5" font-weight="normal" fill="#222" textLength="45.1" lengthAdjust="spacingAndGlyphs">ДЮСОШ</text>
<text x="587" y="624.7" font-size="11.5" font-weight="normal" fill="#222" textLength="3.8" lengthAdjust="spacingAndGlyphs">/</text>
<line x1="597" y1="620.5" x2="600.5" y2="620.5" stroke="#333" stroke-width="0.7" />
</svg></body></html>
